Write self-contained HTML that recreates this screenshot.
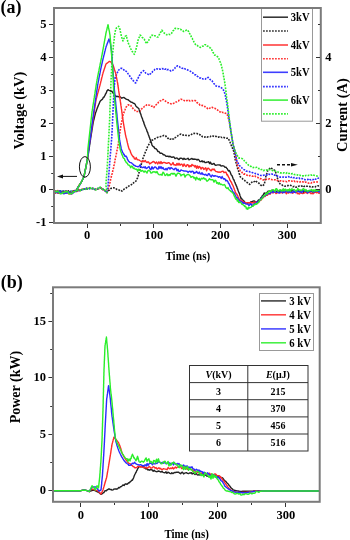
<!DOCTYPE html>
<html><head><meta charset="utf-8"><style>
html,body{margin:0;padding:0;background:#fff;}
body{width:350px;height:540px;overflow:hidden;font-family:"Liberation Serif",serif;}
svg{display:block;}
</style></head><body>
<svg width="350" height="540" viewBox="0 0 350 540" style="will-change:transform">
<rect width="350" height="540" fill="#fff"/>
<g>
<polyline points="54.0,190.9 55.0,191.1 56.0,191.7 57.0,191.1 58.0,191.3 59.0,191.4 60.0,191.0 61.0,191.5 62.0,191.7 62.9,191.9 63.8,191.0 64.8,191.2 65.7,191.0 66.6,192.0 67.5,191.8 68.5,190.9 69.4,192.2 70.3,192.2 71.2,191.8 72.2,191.7 73.1,191.1 74.0,191.0 74.9,191.4 75.8,190.6 76.7,190.6 77.6,190.4 78.4,189.9 79.3,190.2 80.2,190.0 81.1,190.2 82.0,189.6 82.9,189.6 83.8,189.2 84.7,189.3 85.6,188.8 86.4,188.4 87.3,189.1 88.2,189.0 89.1,188.6 90.0,188.2 91.0,188.0 92.0,188.2 93.0,188.5 94.0,188.6 95.0,189.6 96.0,189.5 97.0,189.5 98.0,188.5 99.0,188.6 100.0,187.9 100.8,187.6 101.6,188.3 102.4,189.5 103.2,189.5 104.0,190.4 104.8,190.5 105.5,190.9 106.2,192.0 107.0,192.7 107.6,191.7 108.2,190.9 108.8,190.3 109.4,190.0 110.0,189.2 111.0,188.4 112.0,188.3 113.0,187.9 114.0,187.7 115.0,188.7 116.0,188.8 117.0,189.5 118.0,190.0 119.0,190.0 120.0,190.7 121.0,190.4 122.0,191.1 122.7,190.2 123.5,189.7 124.2,189.0 125.0,188.5 125.7,188.3 126.5,187.7 127.3,186.9 128.1,186.8 129.0,185.9 129.8,185.5 130.6,185.3 131.4,184.7 132.2,183.8 132.9,183.8 133.7,182.7 134.5,182.1 135.2,181.9 136.0,181.0 136.4,180.2 136.8,179.2 137.3,178.4 137.7,177.7 137.9,176.7 138.2,175.9 138.4,174.9 138.7,174.0 138.9,173.2 139.1,172.2 139.3,171.3 139.6,170.5 139.8,169.4 140.0,168.5 140.3,167.8 140.6,166.8 140.8,165.7 141.1,164.7 141.4,163.9 141.7,163.0 142.0,161.8 142.3,161.1 142.6,160.1 142.8,159.1 143.1,158.0 143.4,157.0 143.8,156.0 144.2,155.4 144.6,154.2 144.9,153.4 145.3,152.3 145.7,151.5 146.1,150.5 146.5,149.4 146.8,148.4 147.2,147.7 147.6,146.5 148.0,145.6 148.5,145.0 149.0,144.3 149.4,143.5 149.9,142.5 150.4,142.1 150.9,140.9 151.7,140.3 152.5,140.1 153.3,139.8 154.1,139.1 154.9,138.8 155.7,138.5 156.5,138.2 157.4,137.5 158.2,137.2 159.1,137.2 159.9,136.9 160.9,136.4 161.9,136.1 162.9,135.8 163.9,135.4 165.0,135.5 165.8,136.0 166.5,137.2 167.2,137.6 168.0,138.4 169.0,138.0 170.0,138.9 171.0,139.2 172.0,139.8 172.8,139.0 173.6,138.9 174.4,137.7 175.2,137.6 176.0,137.2 176.8,136.7 177.6,136.0 178.4,135.3 179.2,134.8 180.0,134.4 181.0,134.1 182.0,134.6 183.0,135.0 184.0,135.1 185.0,134.9 186.0,135.4 187.0,135.6 188.0,135.5 189.0,135.7 189.8,135.1 190.7,134.8 191.5,134.4 192.3,133.6 193.2,133.5 194.0,133.4 195.0,133.5 196.0,133.6 197.0,133.5 198.0,134.0 199.0,134.1 199.8,134.6 200.6,135.4 201.4,135.5 202.2,136.6 203.0,136.5 204.0,137.1 205.0,137.0 206.0,136.7 207.0,137.2 208.0,136.8 209.0,136.7 210.0,136.8 211.0,136.0 212.0,135.6 213.0,136.0 214.0,136.5 215.0,136.2 216.0,136.4 217.0,137.2 218.0,137.1 219.0,137.0 220.0,137.6 221.0,137.1 222.0,137.6 223.0,137.2 224.0,137.5 225.0,138.0 226.0,138.2 227.0,138.3 228.0,138.0 228.5,139.0 229.0,139.9 229.5,140.8 230.0,142.0 230.4,143.1 230.8,144.1 231.2,145.1 231.6,146.2 232.0,146.9 232.4,147.9 232.8,149.0 233.2,149.9 233.6,150.9 234.0,152.0 234.1,153.0 234.3,153.9 234.4,154.8 234.6,155.8 234.7,156.8 234.9,157.6 235.0,158.5 235.2,159.4 235.5,160.6 235.7,161.3 236.0,162.4 236.2,163.3 236.5,164.2 236.7,165.2 237.0,166.0 237.2,166.9 237.5,168.0 237.7,168.7 238.0,169.9 238.3,170.5 238.6,171.3 238.9,172.2 239.1,173.2 239.4,174.0 239.7,174.9 240.0,175.8 240.3,176.8 241.0,177.6 241.7,178.1 242.3,178.5 243.0,179.3 243.7,179.8 244.5,180.3 245.4,181.3 246.2,182.1 247.1,182.4 248.0,183.0 248.8,183.6 249.7,184.4 250.3,183.7 251.0,183.1 251.7,182.5 252.3,181.6 253.4,181.7 254.6,181.5 255.7,180.6 256.6,181.8 257.4,182.3 258.2,182.5 259.1,183.4 259.8,184.1 260.4,184.9 261.1,185.3 261.7,186.0 262.6,185.7 263.4,185.1 264.3,184.4 264.5,183.3 264.7,182.4 264.9,181.4 265.1,180.5 265.2,179.6 265.4,178.6 265.6,177.7 265.8,176.6 266.0,175.8 266.3,174.8 266.7,173.8 267.0,172.7 267.4,171.7 267.7,170.5 268.4,170.2 269.0,169.5 269.6,168.6 270.3,167.7 271.2,168.3 272.0,168.6 272.9,169.1 273.7,169.7 274.6,170.3 275.4,171.5 275.7,172.3 276.0,173.5 276.2,174.3 276.5,175.4 276.8,176.5 277.1,177.3 277.4,178.1 277.7,179.1 278.0,180.1 278.3,181.0 278.6,181.8 278.9,182.9 279.7,183.4 280.6,184.5 281.4,184.7 282.3,185.1 283.1,185.6 284.0,185.6 284.9,186.2 285.9,185.9 287.0,185.6 288.1,185.6 289.1,185.1 290.1,185.3 291.1,185.6 292.1,186.3 293.0,186.7 294.0,186.4 295.0,187.3 296.0,187.3 297.0,186.7 298.0,186.6 299.0,186.1 300.0,186.2 301.0,186.0 302.0,186.1 303.0,185.5 304.0,186.5 305.0,186.0 306.0,185.9 307.0,186.3 308.0,186.2 309.0,186.3 310.0,186.7 311.0,186.3 312.0,186.9 313.0,186.9 314.0,187.2 315.0,187.0 316.0,186.3 317.0,186.3 318.0,185.8 319.0,186.0" fill="none" stroke="#222" stroke-width="1.6" stroke-linejoin="round" stroke-dasharray="1.8 1.2"/>
<polyline points="54.0,191.0 55.0,191.3 56.0,191.3 57.0,190.7 58.0,190.6 59.0,191.1 60.0,191.1 61.0,191.9 62.0,191.8 62.9,191.6 63.8,191.6 64.8,191.7 65.7,191.0 66.6,191.5 67.5,191.1 68.5,192.1 69.4,190.9 70.3,192.0 71.2,191.0 72.2,191.8 73.1,191.4 74.0,191.5 74.9,191.8 75.8,190.6 76.7,190.4 77.6,191.2 78.4,190.5 79.3,189.8 80.2,190.6 81.1,190.4 82.0,189.1 82.9,189.3 83.8,188.8 84.7,188.8 85.6,189.0 86.4,188.3 87.3,188.8 88.2,187.8 89.1,187.8 90.0,188.4 91.0,188.1 92.0,188.4 93.0,188.9 94.0,189.0 95.0,189.2 96.0,189.1 97.0,189.3 98.0,189.1 99.0,188.6 100.0,187.8 100.8,187.9 101.6,188.4 102.4,189.2 103.2,189.7 104.0,189.7 104.8,190.4 105.5,191.1 106.2,191.9 107.0,192.6 107.3,191.6 107.7,190.5 108.0,189.9 108.3,188.8 108.7,187.9 109.0,186.9 109.2,186.1 109.4,185.2 109.6,184.4 109.8,183.3 110.0,182.5 110.2,181.5 110.4,180.7 110.6,179.7 110.8,178.8 111.0,178.0 111.2,177.1 111.5,176.1 111.7,175.3 111.9,174.3 112.2,173.4 112.4,172.5 112.6,171.8 112.8,170.7 113.1,169.9 113.3,168.8 113.5,168.1 113.7,167.1 113.8,166.1 114.0,165.3 114.2,164.5 114.4,163.3 114.6,162.5 114.8,161.7 115.0,160.7 115.1,159.8 115.3,158.8 115.5,157.9 115.7,157.1 115.9,156.2 116.1,155.3 116.3,154.2 116.5,153.2 116.7,152.3 116.8,151.5 117.0,150.5 117.2,149.6 117.4,148.5 117.6,147.6 117.8,146.7 117.9,145.8 118.1,144.9 118.2,144.1 118.3,143.2 118.5,142.1 118.6,141.3 118.7,140.5 118.8,139.5 119.0,138.7 119.1,137.7 119.2,136.8 119.4,135.9 119.5,134.9 119.6,134.0 119.8,133.0 119.9,132.1 120.1,131.2 120.2,130.1 120.4,129.3 120.5,128.2 120.7,127.2 120.8,126.3 121.0,125.5 121.1,124.4 121.3,123.5 121.5,122.6 121.7,121.7 121.9,120.7 122.0,119.7 122.2,118.8 122.4,118.0 122.6,117.0 122.8,116.0 123.1,115.0 123.4,114.0 123.8,113.1 124.1,112.0 124.4,110.8 124.8,110.1 125.2,109.2 125.6,108.1 126.0,107.2 126.6,106.5 127.2,105.6 127.8,105.1 128.8,104.9 129.7,104.8 130.7,105.3 131.3,106.2 132.0,107.4 132.7,108.1 133.3,108.9 134.0,109.6 134.6,109.9 135.2,110.8 135.9,111.6 137.0,111.5 138.2,111.5 139.3,111.8 140.0,111.1 140.6,110.5 141.2,109.4 141.9,108.7 142.5,108.1 143.2,107.7 143.8,107.1 144.4,106.4 145.3,106.2 146.2,105.3 147.0,104.7 147.9,104.6 148.8,105.0 149.6,105.2 150.5,106.0 151.3,106.2 152.2,106.3 153.0,106.7 153.9,107.4 154.7,106.0 155.6,105.3 156.4,104.5 157.1,103.7 157.8,103.2 158.5,102.3 159.2,102.1 159.9,101.1 160.8,100.8 161.6,100.0 162.5,99.8 163.3,99.5 164.2,100.4 165.0,100.8 166.0,101.5 167.0,102.3 168.0,102.7 169.0,102.8 170.0,103.4 171.0,103.9 172.0,103.9 173.0,103.6 174.0,103.1 175.0,102.9 176.0,102.0 176.8,101.7 177.7,101.0 178.5,100.9 179.3,100.1 180.2,99.8 181.0,99.3 182.0,99.6 183.0,99.9 184.0,100.4 185.0,101.0 186.0,100.7 187.0,100.4 188.0,101.0 189.0,100.4 190.0,101.0 191.0,100.7 192.0,100.5 193.0,101.0 194.0,101.0 195.0,100.5 195.7,101.0 196.4,101.9 197.1,102.7 197.9,103.2 198.6,103.9 199.3,104.3 200.0,105.1 201.0,105.0 202.0,105.4 203.0,105.6 204.0,105.9 204.8,106.5 205.6,107.4 206.4,107.6 207.2,108.2 208.0,108.8 209.0,108.9 210.0,108.0 211.0,107.2 212.0,107.3 213.0,107.8 214.0,108.2 215.0,108.4 216.0,109.2 216.8,109.5 217.6,110.0 218.4,111.0 219.2,111.6 220.0,111.8 221.0,112.6 222.0,112.1 223.0,112.6 224.0,112.6 225.0,113.1 226.0,113.4 227.0,114.1 227.3,114.8 227.6,115.6 227.9,116.5 228.1,117.4 228.4,118.4 228.7,119.2 229.0,119.9 229.2,120.9 229.3,121.8 229.5,122.7 229.6,123.6 229.8,124.5 229.9,125.4 230.1,126.2 230.2,127.1 230.4,128.0 230.6,129.0 230.7,130.0 230.8,131.0 231.0,132.0 231.2,133.0 231.3,133.8 231.5,134.9 231.6,135.7 231.8,136.7 231.9,137.6 232.1,138.6 232.2,139.4 232.4,140.3 232.5,141.2 232.7,142.2 232.8,143.1 233.0,144.1 233.2,144.8 233.4,145.7 233.7,146.6 233.9,147.4 234.1,148.3 234.3,149.2 234.6,150.2 234.8,151.0 235.0,152.0 235.2,152.9 235.3,153.9 235.5,154.8 235.7,155.6 235.8,156.6 236.0,157.3 236.2,158.2 236.3,159.2 236.5,160.0 236.7,160.9 236.9,161.9 237.0,162.7 237.2,163.6 237.4,164.5 237.5,165.3 237.7,166.1 238.2,167.2 238.7,168.2 239.3,169.1 239.8,169.9 240.3,170.9 241.0,171.2 241.7,171.8 242.3,172.9 243.0,173.4 243.7,174.1 244.6,173.9 245.4,174.3 246.3,174.8 247.2,175.3 248.0,175.7 248.9,176.0 249.9,175.5 250.9,175.6 252.0,176.1 253.0,176.2 254.0,175.7 254.8,175.9 255.7,176.7 256.6,177.0 257.4,177.3 258.2,177.7 259.1,178.2 260.0,178.7 260.8,178.6 261.7,179.2 262.6,179.8 263.4,179.9 264.3,179.8 265.3,179.7 266.3,179.3 267.4,179.7 268.4,179.4 269.4,178.8 270.4,179.3 271.5,179.5 272.5,179.7 273.6,179.7 274.6,179.8 275.6,180.1 276.6,180.8 277.7,180.4 278.7,180.7 279.7,180.9 280.7,180.8 281.8,181.1 282.8,181.1 283.9,181.4 284.9,181.6 285.9,181.4 287.0,181.7 288.1,180.9 289.1,180.7 290.1,181.1 291.1,181.0 292.1,181.2 293.1,181.4 294.0,180.9 295.0,181.6 296.0,181.1 297.0,181.4 298.0,182.0 299.0,182.2 300.0,182.0 301.0,181.6 302.0,181.9 303.0,181.8 304.0,182.5 305.0,182.1 306.0,182.2 307.0,182.8 308.0,183.0 309.0,183.1 310.0,182.8 311.0,183.1 312.0,182.5 313.0,182.7 314.0,182.1 315.0,182.0 316.0,181.8 317.0,182.0 318.0,181.9 319.0,181.6" fill="none" stroke="#ff2a2a" stroke-width="1.6" stroke-linejoin="round" stroke-dasharray="1.8 1.2"/>
<polyline points="54.0,190.7 55.0,191.3 56.0,191.4 57.0,191.7 58.0,190.8 59.0,191.0 60.0,190.9 61.0,191.1 62.0,191.8 62.9,191.0 63.8,191.6 64.8,191.1 65.7,191.2 66.6,191.4 67.5,192.0 68.5,191.7 69.4,190.9 70.3,191.3 71.2,191.1 72.2,192.1 73.1,192.0 74.0,192.0 74.9,191.8 75.8,191.4 76.7,191.5 77.6,191.1 78.4,190.2 79.3,190.7 80.2,190.0 81.1,190.1 82.0,189.7 82.9,189.3 83.8,189.1 84.7,189.0 85.6,188.7 86.4,188.2 87.3,188.9 88.2,188.7 89.1,188.8 90.0,188.2 91.0,188.3 92.0,188.8 93.0,188.4 94.0,189.3 95.0,189.3 96.0,189.3 97.0,188.8 98.0,188.6 99.0,187.8 100.0,187.6 100.8,188.2 101.6,188.5 102.4,188.7 103.2,189.5 104.0,189.8 104.8,190.4 105.5,191.0 106.2,191.8 107.0,192.4 107.1,191.6 107.3,190.7 107.4,189.7 107.5,188.8 107.7,187.9 107.8,186.8 108.0,185.9 108.1,185.0 108.2,184.1 108.2,183.1 108.3,182.2 108.4,181.2 108.4,180.4 108.5,179.4 108.6,178.5 108.6,177.5 108.7,176.6 108.8,175.6 108.8,174.7 108.9,173.7 109.0,172.9 109.1,171.9 109.1,171.0 109.2,170.0 109.3,169.1 109.3,168.2 109.4,167.2 109.5,166.3 109.5,165.4 109.6,164.4 109.7,163.5 109.7,162.5 109.8,161.6 109.9,160.7 110.0,159.7 110.0,158.8 110.1,157.9 110.2,157.0 110.2,156.1 110.3,155.1 110.4,154.2 110.5,153.3 110.5,152.3 110.6,151.4 110.7,150.6 110.8,149.6 110.8,148.7 110.9,147.7 111.0,146.8 111.0,145.9 111.1,145.0 111.2,144.0 111.3,143.2 111.3,142.1 111.4,141.3 111.5,140.3 111.5,139.5 111.6,138.5 111.7,137.6 111.8,136.7 111.8,135.7 111.9,134.8 111.9,133.9 112.0,133.0 112.0,132.0 112.1,131.1 112.1,130.2 112.2,129.3 112.2,128.3 112.2,127.4 112.3,126.5 112.3,125.5 112.4,124.6 112.4,123.7 112.5,122.8 112.5,121.8 112.6,120.9 112.6,120.0 112.6,119.1 112.7,118.2 112.7,117.2 112.8,116.4 112.8,115.4 112.8,114.5 112.9,113.6 112.9,112.7 113.0,111.7 113.0,110.8 113.1,109.9 113.1,109.0 113.1,108.1 113.2,107.2 113.2,106.2 113.3,105.3 113.3,104.4 113.3,103.5 113.4,102.6 113.4,101.7 113.5,100.7 113.5,99.9 113.6,98.9 113.6,98.0 113.7,97.1 113.7,96.1 113.8,95.2 113.8,94.3 113.9,93.4 113.9,92.4 114.0,91.5 114.1,90.5 114.1,89.6 114.2,88.7 114.2,87.8 114.3,86.9 114.3,85.9 114.4,85.0 114.5,84.0 114.6,83.0 114.7,82.0 114.8,81.0 114.9,80.1 115.0,79.0 115.1,78.1 115.2,77.0 115.8,76.0 116.4,75.0 116.8,74.3 117.1,73.5 117.5,72.3 117.9,71.5 118.2,70.8 118.6,70.2 119.5,69.3 120.5,68.5 121.4,68.2 122.1,68.5 122.8,69.0 123.6,69.7 124.3,70.3 125.2,71.3 126.2,71.3 127.1,72.2 127.7,73.1 128.3,74.1 128.8,74.8 129.4,75.5 130.0,76.5 130.6,77.4 131.2,78.2 131.7,78.9 132.3,80.0 132.9,80.4 133.8,81.3 134.8,82.5 135.7,82.9 136.1,82.0 136.5,81.4 136.9,80.4 137.4,79.4 137.8,78.6 138.2,77.8 138.6,77.0 139.1,76.5 139.5,75.3 140.0,74.8 140.5,73.9 140.9,72.9 141.4,72.4 142.5,71.6 143.6,70.7 144.3,71.3 145.0,72.1 145.7,73.1 146.4,73.6 147.4,73.8 148.3,74.4 149.3,75.0 150.0,74.1 150.7,73.6 151.4,72.5 152.1,72.3 152.8,71.2 153.5,70.5 154.3,70.1 155.0,69.2 155.7,68.9 156.6,68.8 157.5,69.0 158.4,69.4 159.3,69.1 160.2,69.3 161.2,69.0 162.1,68.6 163.0,68.9 164.0,68.3 165.0,69.3 166.0,68.9 167.0,69.8 168.0,69.5 169.0,69.7 170.0,70.4 171.0,71.1 172.0,70.9 172.7,70.4 173.3,69.8 174.0,68.9 174.7,68.5 175.3,67.5 176.0,67.1 176.6,66.7 177.3,65.8 178.2,66.1 179.2,66.5 180.2,67.4 181.1,67.6 182.1,68.3 183.2,68.4 184.2,68.1 185.3,69.1 186.3,69.3 187.2,69.7 188.2,70.2 189.2,70.6 190.1,71.1 190.9,71.7 191.7,72.3 192.4,72.7 193.2,73.2 194.0,74.3 194.8,74.7 195.7,74.9 196.6,75.9 197.4,76.4 198.2,76.9 199.1,77.7 200.0,78.1 200.8,78.0 201.7,78.7 202.6,78.7 203.4,79.1 204.3,79.2 205.2,79.2 206.2,78.4 207.2,78.3 208.1,77.4 208.9,78.3 209.7,79.2 210.4,79.7 211.2,80.2 212.0,80.8 212.6,81.7 213.1,82.4 213.7,83.3 214.3,84.0 214.9,84.8 215.4,85.3 216.0,85.9 217.0,86.3 218.0,86.7 219.0,86.4 220.0,86.8 220.8,87.3 221.5,87.9 222.2,88.4 223.0,89.2 223.4,89.9 223.8,91.2 224.2,91.9 224.6,92.9 225.0,94.1 225.2,94.8 225.4,95.7 225.5,96.6 225.7,97.5 225.9,98.5 226.1,99.4 226.3,100.3 226.5,101.2 226.6,102.2 226.8,103.0 227.0,104.0 227.1,104.9 227.3,105.9 227.4,106.8 227.5,107.8 227.7,108.7 227.8,109.7 227.9,110.6 228.1,111.4 228.2,112.3 228.3,113.4 228.5,114.3 228.6,115.2 228.7,116.2 228.9,117.0 229.0,118.0 229.1,118.9 229.3,119.8 229.4,120.7 229.5,121.6 229.6,122.6 229.8,123.5 229.9,124.4 230.0,125.2 230.1,126.2 230.3,127.0 230.4,128.0 230.6,128.9 230.7,130.1 230.8,131.1 231.0,132.0 231.2,133.0 231.3,133.8 231.5,134.7 231.6,135.6 231.8,136.6 231.9,137.5 232.1,138.5 232.2,139.4 232.4,140.3 232.5,141.3 232.7,142.1 232.8,143.0 233.0,144.0 233.2,144.8 233.4,145.9 233.7,146.6 233.9,147.4 234.1,148.5 234.3,149.4 234.6,150.2 234.8,151.1 235.0,151.9 235.2,152.8 235.4,153.8 235.6,154.7 235.8,155.6 235.9,156.6 236.1,157.3 236.3,158.3 236.5,159.3 236.7,160.2 236.9,160.9 237.4,162.1 237.9,162.8 238.4,163.7 238.9,164.7 239.4,165.6 240.1,166.2 240.8,167.0 241.5,167.5 242.2,168.2 242.9,169.1 243.7,169.5 244.6,169.8 245.4,170.1 246.3,171.1 247.1,171.3 248.1,171.5 249.2,171.6 250.2,172.0 251.3,172.0 252.3,172.6 253.3,172.7 254.3,173.0 255.4,173.6 256.4,173.6 257.4,174.0 258.3,174.5 259.1,174.7 260.0,175.1 260.9,175.5 261.7,175.5 262.6,175.7 263.6,175.3 264.6,175.1 265.7,175.2 266.7,175.1 267.7,175.3 268.7,174.3 269.8,174.4 270.8,174.6 271.9,174.1 272.9,174.3 273.8,174.2 274.6,175.1 275.4,175.2 276.3,175.8 277.1,175.8 278.0,176.5 279.0,177.0 280.0,177.1 281.1,177.1 282.1,177.2 283.1,177.0 284.1,177.4 285.1,177.1 286.1,177.2 287.1,177.0 288.1,176.6 289.1,176.9 290.1,176.4 291.1,177.4 292.1,176.8 293.1,177.7 294.0,177.6 295.0,177.6 296.0,178.2 297.0,178.0 298.0,178.2 299.0,177.9 300.0,178.8 301.0,178.8 302.0,178.6 303.0,178.7 304.0,179.1 305.0,179.7 306.0,179.8 307.0,179.6 308.0,179.4 309.0,180.3 310.0,179.6 311.0,179.9 312.0,179.5 313.0,179.8 314.0,178.8 315.0,179.3 316.0,178.9 317.0,178.1 318.0,178.3 319.0,178.0" fill="none" stroke="#2a2aff" stroke-width="1.6" stroke-linejoin="round" stroke-dasharray="1.8 1.2"/>
<polyline points="54.0,190.5 55.0,191.3 56.0,191.3 57.0,191.8 58.0,190.9 59.0,191.0 60.0,191.7 61.0,191.7 62.0,191.2 62.9,191.8 63.8,191.4 64.8,191.9 65.7,191.0 66.6,191.2 67.5,192.1 68.5,191.4 69.4,191.2 70.3,192.0 71.2,191.8 72.2,191.1 73.1,191.7 74.0,191.8 74.9,191.0 75.8,191.3 76.7,190.5 77.6,190.5 78.4,190.0 79.3,189.9 80.2,190.6 81.1,189.7 82.0,190.2 82.9,189.3 83.8,189.4 84.7,189.5 85.6,189.1 86.4,188.2 87.3,188.6 88.2,188.5 89.1,187.8 90.0,187.5 91.0,188.7 92.0,188.5 93.0,188.4 94.0,189.0 95.0,189.0 96.0,189.9 97.0,189.1 98.0,188.2 99.0,188.4 100.0,187.2 100.8,187.9 101.6,188.1 102.4,189.3 103.2,189.1 104.0,190.0 104.8,190.3 105.5,191.2 106.2,192.0 107.0,192.5 106.9,191.6 106.7,190.6 106.6,189.7 106.5,188.8 106.3,187.7 106.2,186.9 106.0,185.9 105.9,185.1 106.0,184.1 106.0,183.1 106.1,182.2 106.2,181.3 106.2,180.3 106.3,179.3 106.4,178.5 106.4,177.6 106.5,176.6 106.6,175.6 106.7,174.7 106.7,173.8 106.8,172.8 106.9,171.9 106.9,170.9 107.0,170.0 107.1,169.1 107.1,168.1 107.2,167.2 107.3,166.2 107.3,165.3 107.4,164.4 107.4,163.5 107.5,162.5 107.5,161.7 107.6,160.7 107.6,159.8 107.7,158.8 107.7,157.9 107.8,157.0 107.8,156.1 107.9,155.2 107.9,154.2 108.0,153.3 108.0,152.4 108.1,151.5 108.1,150.5 108.2,149.6 108.2,148.7 108.2,147.8 108.3,146.8 108.3,145.9 108.4,145.0 108.4,144.1 108.5,143.1 108.5,142.2 108.6,141.3 108.6,140.4 108.7,139.4 108.7,138.5 108.8,137.6 108.8,136.7 108.9,135.7 108.9,134.8 108.9,133.9 109.0,132.9 109.0,132.0 109.1,131.1 109.1,130.1 109.2,129.2 109.2,128.3 109.2,127.4 109.3,126.5 109.3,125.5 109.4,124.6 109.4,123.7 109.5,122.8 109.5,121.8 109.6,120.9 109.6,120.0 109.6,119.1 109.7,118.1 109.7,117.2 109.7,116.3 109.8,115.4 109.8,114.5 109.8,113.5 109.9,112.6 109.9,111.7 109.9,110.7 110.0,109.8 110.0,108.9 110.0,108.0 110.1,107.0 110.1,106.1 110.1,105.2 110.2,104.3 110.2,103.4 110.2,102.4 110.3,101.5 110.3,100.6 110.3,99.7 110.4,98.7 110.4,97.8 110.4,96.9 110.5,95.9 110.5,95.0 110.5,94.1 110.6,93.1 110.6,92.2 110.7,91.2 110.7,90.3 110.7,89.4 110.8,88.4 110.8,87.5 110.8,86.6 110.9,85.6 110.9,84.7 110.9,83.8 111.0,82.8 111.0,81.9 111.1,80.9 111.1,80.0 111.1,79.1 111.2,78.2 111.2,77.3 111.3,76.3 111.3,75.5 111.3,74.5 111.4,73.7 111.4,72.8 111.5,71.8 111.5,70.9 111.5,70.0 111.6,69.1 111.6,68.2 111.7,67.3 111.7,66.3 111.8,65.4 111.8,64.6 111.8,63.7 111.9,62.7 111.9,61.8 112.0,60.9 112.0,60.0 112.1,59.1 112.2,58.2 112.3,57.2 112.4,56.3 112.4,55.5 112.5,54.6 112.6,53.6 112.7,52.7 112.8,51.9 112.9,50.9 113.0,49.9 113.1,49.0 113.2,48.2 113.2,47.2 113.3,46.3 113.4,45.4 113.5,44.5 113.6,43.6 113.7,42.6 113.8,41.6 113.9,40.8 114.1,39.7 114.2,38.7 114.3,37.9 114.4,36.9 114.5,35.9 114.7,35.0 114.8,34.0 114.9,33.1 115.0,32.2 115.3,31.0 115.7,29.9 116.1,29.0 116.4,28.0 117.5,27.3 118.6,26.3 119.1,27.3 119.5,28.4 120.0,29.3 120.2,30.2 120.3,31.1 120.5,32.0 120.7,32.8 120.9,33.7 121.1,34.7 121.2,35.5 121.4,36.3 121.7,37.3 122.0,38.0 122.3,39.1 122.6,39.8 122.9,40.9 123.3,39.9 123.7,38.8 124.2,38.1 124.6,37.3 125.0,36.4 126.4,35.7 126.6,36.6 126.8,37.6 127.0,38.4 127.3,39.4 127.5,40.1 127.7,41.2 127.9,41.9 128.2,42.8 128.6,43.8 128.9,44.8 129.3,45.4 129.7,46.2 130.0,47.1 130.4,48.0 130.8,48.8 131.3,49.6 131.7,50.7 132.1,51.4 132.7,52.0 133.2,53.0 133.8,53.8 134.3,54.3 134.6,53.2 134.9,52.4 135.2,51.7 135.5,50.5 135.8,49.6 136.1,48.9 136.4,47.8 136.6,47.1 136.8,46.0 137.0,45.2 137.2,44.3 137.3,43.3 137.5,42.6 137.7,41.6 137.9,40.8 138.2,39.8 138.6,38.6 138.9,38.0 139.3,37.0 139.7,35.9 140.0,35.1 140.7,35.5 141.4,36.4 142.1,37.3 142.8,37.8 143.6,38.6 144.3,39.1 144.7,40.3 145.1,41.1 145.6,42.0 146.0,42.6 146.4,43.7 146.9,42.7 147.5,42.2 148.1,41.3 148.6,40.9 149.0,39.7 149.5,39.1 149.9,38.2 150.3,37.4 150.7,36.4 151.2,35.9 151.6,35.4 152.5,35.2 153.4,35.9 154.3,35.7 155.3,35.9 156.2,36.3 157.1,37.0 158.0,37.0 158.5,36.2 159.0,35.1 159.5,34.4 159.9,33.4 160.4,32.6 160.9,32.0 161.4,31.1 161.9,30.2 162.5,31.1 163.2,31.9 163.8,32.6 164.4,33.2 165.1,33.6 165.7,34.0 166.7,34.8 167.7,34.2 168.8,34.1 169.8,34.6 170.8,34.3 171.4,33.7 171.9,32.7 172.5,32.0 173.0,30.8 173.6,30.3 174.1,29.3 174.7,28.6 175.7,28.4 176.7,28.4 177.8,28.6 178.8,28.7 179.8,29.4 180.6,29.4 181.4,30.0 182.1,30.8 182.9,31.0 183.7,31.5 184.7,31.1 185.6,30.6 186.6,30.0 187.6,30.0 188.1,30.8 188.6,31.6 189.0,32.7 189.5,33.4 190.0,34.1 190.4,35.4 190.9,35.9 191.4,37.0 191.8,37.9 192.3,38.4 192.7,39.6 193.1,40.3 193.6,41.2 194.0,42.2 194.4,42.9 194.9,43.6 195.3,44.3 196.2,45.3 197.0,45.4 197.9,46.0 198.7,46.4 199.6,47.0 200.4,47.4 201.3,47.0 202.1,46.3 203.0,46.2 203.9,45.3 204.7,44.7 205.6,44.7 206.3,44.8 207.1,46.0 207.8,46.1 208.5,46.7 209.2,47.2 210.0,47.7 210.7,48.4 211.2,49.3 211.7,49.8 212.2,50.7 212.6,51.5 213.1,52.6 213.6,53.2 214.1,54.0 214.6,55.1 215.4,55.2 216.1,55.8 216.9,56.3 217.6,56.7 218.4,57.5 218.8,58.2 219.1,59.2 219.5,60.2 219.9,61.2 220.3,62.1 220.6,62.9 221.0,63.9 221.2,64.9 221.4,65.9 221.7,66.8 221.9,67.7 222.1,68.6 222.4,69.7 222.6,70.6 222.8,71.7 223.0,72.5 223.1,73.5 223.3,74.4 223.5,75.5 223.6,76.3 223.8,77.3 224.0,78.3 224.2,79.3 224.3,80.3 224.5,81.2 224.7,82.0 224.8,83.1 225.0,83.9 225.1,84.9 225.2,85.9 225.4,86.9 225.5,87.8 225.6,88.8 225.7,89.6 225.8,90.5 225.9,91.5 226.1,92.5 226.2,93.3 226.3,94.3 226.4,95.3 226.5,96.2 226.6,97.2 226.8,98.1 226.9,99.0 227.0,100.1 227.1,100.9 227.2,101.8 227.4,102.8 227.5,103.8 227.6,104.7 227.7,105.7 227.8,106.6 227.9,107.5 228.1,108.5 228.2,109.3 228.3,110.4 228.4,111.2 228.5,112.3 228.6,113.1 228.8,114.1 228.9,115.0 229.0,116.0 229.1,116.9 229.2,117.9 229.3,118.7 229.4,119.7 229.5,120.5 229.6,121.6 229.8,122.5 229.9,123.4 230.0,124.3 230.1,125.2 230.2,126.2 230.3,127.1 230.4,128.1 230.6,129.0 230.7,130.1 230.8,131.0 231.0,132.1 231.2,132.9 231.3,133.9 231.5,134.8 231.6,135.6 231.8,136.6 231.9,137.4 232.1,138.5 232.2,139.4 232.4,140.2 232.5,141.3 232.7,142.2 232.8,143.0 233.0,144.1 233.2,145.0 233.5,145.7 233.8,146.6 234.0,147.4 234.2,148.3 234.5,149.4 234.8,150.1 235.0,151.2 235.5,152.0 236.0,153.2 236.5,154.1 237.0,154.9 237.6,156.1 238.1,157.1 238.6,157.9 239.7,158.1 240.9,158.2 242.0,158.5 242.7,159.1 243.4,159.9 244.0,160.4 244.7,161.5 245.4,162.0 246.1,162.6 246.8,163.6 247.5,163.9 248.2,164.9 248.9,165.6 249.8,165.9 250.6,166.3 251.5,166.8 252.3,167.5 253.4,167.6 254.6,167.2 255.7,167.5 256.6,167.3 257.4,168.2 258.3,168.5 259.1,168.6 260.0,168.6 260.9,169.5 261.7,169.5 262.6,169.8 263.4,170.6 264.3,170.2 265.4,170.5 266.5,169.9 267.5,170.2 268.6,169.5 269.7,169.6 270.8,170.1 271.8,170.3 272.9,170.8 273.9,170.8 274.9,171.1 276.0,171.5 277.0,172.0 278.0,172.0 279.0,172.5 280.0,172.9 281.1,172.9 282.1,172.7 283.1,173.1 284.1,172.7 285.1,173.1 286.1,173.4 287.1,172.6 288.1,173.2 289.1,173.5 290.0,173.1 290.9,173.4 291.7,173.9 292.6,173.6 293.5,174.0 294.4,174.5 295.2,174.6 296.1,174.5 297.0,174.7 298.0,175.2 299.0,175.7 300.0,175.2 301.0,175.8 302.0,175.9 303.0,175.8 304.0,175.9 305.0,176.2 306.0,175.4 307.0,175.8 308.0,175.6 309.0,175.2 310.0,175.4 311.0,175.0 312.0,175.1 313.0,174.6 314.0,175.2 315.0,175.6 316.0,175.8 317.0,176.1 318.0,175.6 319.0,176.0" fill="none" stroke="#2aee2a" stroke-width="1.6" stroke-linejoin="round" stroke-dasharray="1.8 1.2"/>
<polyline points="54.0,191.1 55.0,193.0 56.0,192.9 57.0,191.8 58.0,192.5 59.0,192.4 60.0,193.0 61.0,193.4 62.0,191.8 63.0,191.6 64.0,193.5 65.0,192.4 66.0,193.1 67.0,191.3 68.0,192.5 69.0,193.3 70.0,192.1 71.0,193.8 72.1,193.7 73.1,191.8 74.0,191.1 74.8,191.4 75.7,191.4 76.6,189.9 77.1,188.8 77.6,188.2 78.1,186.8 78.6,186.2 79.1,185.6 79.6,184.8 80.1,184.0 80.7,183.1 81.2,182.3 81.7,181.4 82.1,180.5 82.6,179.5 83.0,178.6 83.5,177.6 83.9,176.7 84.1,175.8 84.3,174.9 84.5,174.0 84.7,173.1 84.8,172.2 85.0,171.3 85.2,170.4 85.4,169.5 85.6,168.6 85.8,167.6 86.0,166.7 86.2,165.7 86.4,164.8 86.5,163.8 86.7,162.9 86.9,161.9 87.1,161.0 87.3,160.0 87.5,159.0 87.7,158.0 87.8,157.0 88.0,156.0 88.2,155.0 88.3,154.1 88.5,153.2 88.6,152.3 88.7,151.4 88.8,150.5 89.0,149.6 89.1,148.7 89.2,147.8 89.4,146.9 89.5,146.0 89.6,145.1 89.8,144.2 89.9,143.3 90.0,142.4 90.2,141.5 90.3,140.5 90.5,139.6 90.6,138.7 90.7,137.8 90.9,136.9 91.0,136.0 91.2,135.1 91.3,134.1 91.5,133.2 91.6,132.3 91.8,131.3 91.9,130.4 92.1,129.5 92.2,128.5 92.4,127.6 92.5,126.7 92.7,125.7 92.8,124.8 93.0,123.9 93.1,122.9 93.3,122.0 93.5,121.1 93.7,120.2 94.0,119.3 94.2,118.4 94.4,117.5 94.6,116.6 94.8,115.7 95.1,114.8 95.3,113.9 95.5,113.0 95.8,112.1 96.2,111.2 96.5,110.3 96.8,109.4 97.1,108.5 97.5,107.6 97.8,106.7 98.2,105.9 98.5,105.0 98.9,104.2 99.3,103.4 99.6,102.5 100.0,101.4 100.8,100.6 101.5,99.9 102.3,99.4 102.9,98.4 103.4,97.3 104.0,97.2 104.6,96.0 105.1,95.2 105.5,93.9 106.0,93.6 106.4,92.6 106.9,91.0 108.0,89.7 109.2,90.5 110.3,90.6 111.2,91.4 112.0,91.3 112.6,92.5 113.1,93.1 113.7,93.5 114.5,94.6 115.2,95.6 116.0,96.5 117.2,96.3 118.3,96.7 119.4,96.5 120.6,97.2 121.8,98.2 122.9,97.6 124.0,97.5 125.1,98.4 126.2,99.1 127.4,99.6 128.2,99.8 128.9,100.5 129.7,101.1 130.8,102.1 132.0,102.3 132.8,102.7 133.5,103.4 134.3,103.5 135.1,104.2 135.8,105.8 136.6,106.9 137.4,107.3 138.1,108.0 138.9,108.7 139.2,109.9 139.6,111.2 139.9,112.0 140.2,112.8 140.6,113.9 140.9,114.4 141.2,115.5 141.6,116.8 141.9,117.5 142.2,118.2 142.5,118.9 142.8,120.0 143.2,121.2 143.5,121.3 143.8,122.8 144.1,123.7 144.4,124.6 144.8,125.5 145.1,126.5 145.5,127.2 145.9,128.2 146.3,129.0 146.6,129.7 147.0,131.3 147.3,131.9 147.7,132.5 148.0,133.6 148.3,134.5 148.6,135.3 148.9,136.1 149.3,137.2 149.6,138.1 149.9,138.9 150.2,139.7 150.5,140.2 150.8,141.2 151.2,142.1 151.5,143.2 151.8,144.3 152.1,145.3 152.7,146.0 153.4,146.7 154.0,146.7 154.6,148.1 155.2,148.6 155.8,148.6 156.4,149.2 157.0,149.8 157.8,151.5 158.5,151.4 159.2,151.8 160.0,153.2 160.8,153.2 161.7,153.2 162.5,153.8 163.3,154.8 164.2,154.7 165.0,155.3 166.0,156.4 167.0,156.2 168.0,156.2 169.0,156.8 170.0,156.2 171.0,157.0 172.0,157.3 173.0,157.0 174.0,157.0 175.0,158.6 176.0,158.2 177.0,157.9 178.0,158.9 179.0,159.6 180.0,158.3 181.0,158.2 182.0,158.4 183.0,159.5 184.0,158.2 185.0,159.3 186.0,159.2 187.0,158.9 188.0,158.2 189.0,159.8 190.0,159.4 191.0,158.9 192.0,158.4 193.0,159.4 194.0,159.0 195.0,159.4 196.0,159.2 197.0,160.1 198.0,159.3 199.0,160.0 200.0,161.6 201.0,161.6 202.0,160.8 203.0,162.0 204.0,161.2 205.0,162.6 206.0,162.5 206.9,162.1 207.8,162.0 208.7,161.7 209.6,163.6 210.4,162.2 211.3,163.9 212.2,164.4 213.1,163.9 214.0,163.4 214.9,164.9 215.8,165.3 216.7,165.1 217.6,164.9 218.4,164.9 219.3,165.0 220.2,165.0 221.1,166.1 222.0,165.9 223.0,165.8 224.0,166.1 225.0,167.4 226.0,167.2 226.7,168.2 227.3,168.8 228.0,170.2 228.7,171.0 229.3,170.6 230.0,171.7 230.4,172.7 230.9,174.2 231.3,174.9 231.8,175.4 232.2,176.1 232.7,177.5 233.1,178.6 233.6,179.6 234.0,179.9 234.4,181.3 234.7,182.0 235.1,182.7 235.5,184.1 235.8,184.3 236.2,185.7 236.5,186.0 236.9,187.0 237.3,188.6 237.6,188.8 238.0,190.2 238.3,191.0 238.7,192.1 239.0,192.6 239.3,193.4 239.7,194.3 240.0,195.7 240.3,196.3 240.7,197.5 241.0,198.5 241.6,198.3 242.2,199.7 242.8,199.9 243.4,200.6 244.0,201.1 245.0,203.0 246.0,203.1 247.0,203.4 248.0,202.7 249.0,202.9 250.0,202.8 251.0,201.7 252.0,201.8 253.0,201.1 254.0,200.9 255.0,201.4 256.0,202.6 256.8,201.6 257.5,201.7 258.2,200.4 259.0,199.7 259.7,199.7 260.3,199.1 261.0,197.4 261.6,197.4 262.2,195.9 262.8,195.1 263.4,195.3 264.0,193.2 265.0,193.0 266.0,193.9 267.0,192.4 268.0,191.2 269.0,191.1 270.0,191.0 271.0,191.8 272.0,190.1 273.0,192.0 274.0,190.8 275.0,192.3 276.0,192.2 277.0,190.8 278.0,190.8 279.0,191.4 280.0,190.6 280.9,191.8 281.8,190.3 282.7,190.2 283.6,192.4 284.5,190.8 285.5,191.5 286.4,191.1 287.3,190.7 288.2,190.1 289.1,192.0 290.0,192.1 290.9,192.1 291.8,190.2 292.7,190.5 293.6,191.5 294.5,192.3 295.5,191.4 296.4,191.8 297.3,191.7 298.2,190.8 299.1,191.6 300.0,191.1 300.9,190.9 301.8,190.4 302.7,190.9 303.6,192.4 304.5,191.2 305.5,191.6 306.4,191.5 307.3,192.2 308.2,190.8 309.1,190.6 310.0,190.6 310.9,190.6 311.8,191.9 312.7,192.1 313.6,190.7 314.5,190.8 315.5,191.4 316.4,191.5 317.3,191.6 318.2,190.8 319.1,190.3 320.0,191.5" fill="none" stroke="#222" stroke-width="1.4" stroke-linejoin="round"/>
<polyline points="54.0,193.1 55.0,193.2 56.0,191.2 57.0,191.4 58.0,193.3 59.0,193.2 60.0,193.1 61.0,192.2 62.0,193.1 63.0,193.0 64.0,192.9 65.0,191.7 66.0,192.3 67.0,192.3 68.0,193.2 69.0,194.0 70.0,193.9 71.0,192.8 72.1,192.5 73.1,192.2 74.0,191.1 74.8,190.5 75.7,190.6 76.6,189.8 77.1,189.0 77.6,188.8 78.1,187.5 78.6,186.6 79.1,185.4 79.6,184.3 80.1,184.0 80.7,183.1 81.2,182.3 81.7,181.4 82.1,180.5 82.6,179.5 83.0,178.6 83.5,177.6 83.9,176.7 84.1,175.8 84.3,174.9 84.5,174.0 84.7,173.1 84.8,172.2 85.0,171.3 85.2,170.4 85.4,169.5 85.6,168.6 85.8,167.6 86.0,166.7 86.2,165.7 86.4,164.8 86.5,163.8 86.7,162.9 86.9,161.9 87.1,161.0 87.3,160.0 87.4,159.1 87.5,158.1 87.6,157.2 87.8,156.3 87.9,155.3 88.0,154.4 88.1,153.5 88.2,152.5 88.3,151.6 88.4,150.7 88.5,149.7 88.7,148.8 88.8,147.9 88.9,146.9 89.0,146.0 89.1,145.1 89.3,144.2 89.4,143.3 89.6,142.4 89.7,141.5 89.8,140.6 90.0,139.7 90.1,138.8 90.2,137.9 90.4,137.0 90.5,136.1 90.7,135.2 90.8,134.3 90.9,133.4 91.1,132.6 91.2,131.7 91.3,130.8 91.5,129.9 91.6,129.0 91.8,128.1 91.9,127.2 92.0,126.3 92.2,125.4 92.3,124.5 92.4,123.6 92.6,122.7 92.7,121.8 92.9,120.9 93.0,120.0 93.1,119.1 93.3,118.2 93.4,117.3 93.5,116.4 93.7,115.5 93.8,114.5 94.0,113.6 94.1,112.7 94.2,111.8 94.4,110.9 94.5,110.0 94.6,109.1 94.8,108.2 94.9,107.3 95.0,106.4 95.2,105.5 95.3,104.5 95.5,103.6 95.6,102.7 95.7,101.8 95.9,100.9 96.0,100.0 96.2,99.1 96.5,98.2 96.7,97.4 96.9,96.5 97.2,95.6 97.4,94.7 97.6,93.8 97.9,92.9 98.1,92.1 98.4,91.2 98.6,90.3 98.8,89.4 99.1,88.5 99.3,87.6 99.5,86.8 99.8,85.9 100.0,85.0 100.2,84.1 100.5,83.2 100.7,82.2 100.9,81.3 101.2,80.4 101.4,79.5 101.6,78.5 101.8,77.6 102.1,76.7 102.3,75.8 102.5,74.8 102.8,73.9 103.0,73.0 103.3,72.1 103.6,71.2 103.9,70.3 104.2,69.4 104.5,68.5 104.8,67.6 105.1,66.7 105.4,65.8 105.7,64.9 106.0,64.0 106.8,63.4 107.7,62.7 108.6,62.0 109.4,61.4 111.0,62.0 111.5,62.8 112.0,63.5 112.5,64.2 113.0,65.0 113.3,65.9 113.6,66.8 113.9,67.7 114.2,68.6 114.4,69.4 114.7,70.3 115.0,71.2 115.3,72.1 115.6,73.0 115.8,73.9 116.0,74.8 116.1,75.7 116.3,76.6 116.5,77.5 116.7,78.5 116.9,79.4 117.1,80.3 117.2,81.2 117.4,82.1 117.6,83.0 117.7,84.0 117.9,85.0 118.0,86.0 118.2,87.0 118.3,88.0 118.5,89.0 118.6,90.0 118.7,90.9 118.9,91.9 119.0,92.8 119.2,93.7 119.3,94.7 119.5,95.6 119.6,96.6 119.8,97.5 119.9,98.4 120.1,99.4 120.2,100.3 120.3,101.2 120.5,102.2 120.6,103.1 120.7,104.0 120.9,105.0 121.0,105.9 121.2,106.9 121.3,107.8 121.4,108.7 121.6,109.7 121.7,110.6 121.8,111.5 121.9,112.5 122.1,113.4 122.2,114.4 122.3,115.3 122.4,116.2 122.5,117.2 122.7,118.1 122.8,119.1 122.9,120.0 123.1,120.9 123.2,121.8 123.4,122.7 123.5,123.6 123.7,124.4 123.8,125.3 124.0,126.2 124.1,127.1 124.3,128.0 124.5,129.0 124.6,129.9 124.8,130.9 125.0,131.9 125.2,132.9 125.3,133.8 125.5,134.8 125.7,135.7 125.9,136.6 126.1,137.5 126.4,138.3 126.6,139.2 126.8,140.1 127.0,141.0 127.2,141.9 127.4,142.9 127.7,143.8 127.9,144.8 128.1,145.6 128.3,146.2 128.7,147.7 129.2,149.3 129.6,149.8 130.0,150.1 130.5,152.1 130.9,153.0 131.4,154.1 132.0,155.3 132.6,155.9 133.1,156.8 133.7,156.8 134.5,158.9 135.4,159.2 136.2,157.6 137.1,159.5 138.0,159.9 138.8,159.9 139.7,160.5 140.6,161.0 141.8,162.1 142.9,160.6 144.0,161.8 145.2,160.5 146.3,162.1 147.2,162.5 148.0,161.7 148.8,162.4 149.7,163.9 150.8,163.2 152.0,162.4 153.1,161.5 154.3,162.0 155.4,163.4 156.6,162.0 157.7,164.0 158.9,161.8 160.0,163.6 161.0,161.6 162.0,163.6 163.0,162.6 164.0,162.3 165.0,162.6 166.0,163.2 167.0,163.3 168.0,162.8 169.0,162.6 170.0,163.7 171.0,165.1 172.0,164.2 173.0,162.5 174.0,165.0 175.0,164.7 176.0,165.4 177.0,163.4 178.0,165.2 179.0,163.3 180.0,165.3 181.0,164.3 182.0,164.2 183.0,166.4 184.0,164.0 185.0,165.5 186.0,166.6 187.0,164.8 188.0,164.7 189.0,167.0 190.0,165.5 191.0,166.6 192.0,164.4 193.0,165.6 193.9,165.3 194.8,167.0 195.7,165.6 196.6,168.3 197.5,165.9 198.4,168.2 199.3,166.4 200.2,167.3 201.1,169.1 202.0,167.5 202.9,167.7 203.8,169.4 204.8,168.6 205.7,167.7 206.6,170.8 207.5,168.4 208.5,168.2 209.4,169.3 210.3,170.2 211.2,170.8 212.2,169.0 213.1,169.8 214.0,169.0 215.0,170.5 216.0,171.6 217.0,171.6 218.0,172.3 219.0,171.9 220.0,172.4 221.0,172.0 222.0,171.4 223.0,171.1 224.0,172.7 225.0,172.1 226.0,172.3 226.5,173.7 227.0,175.1 227.5,174.6 228.0,176.1 228.4,176.7 228.9,177.8 229.3,178.1 229.8,180.2 230.2,180.2 230.7,181.5 231.1,182.1 231.6,182.6 232.0,184.1 232.4,184.5 232.8,185.3 233.2,186.2 233.6,187.2 234.0,188.1 234.4,189.5 234.8,190.3 235.2,191.7 235.6,192.6 236.0,193.6 236.5,193.6 237.0,194.7 237.5,195.3 238.0,196.6 238.5,197.5 239.0,198.6 239.5,199.4 240.0,199.6 240.8,200.5 241.6,201.2 242.4,200.9 243.2,201.6 244.0,202.8 245.0,202.2 246.0,203.8 247.0,202.8 248.0,202.7 249.0,202.7 250.0,202.7 251.0,202.5 252.0,203.0 253.0,202.8 254.0,202.2 255.0,202.8 256.0,201.7 257.0,203.1 258.0,202.8 258.8,201.9 259.5,200.9 260.2,200.5 261.0,200.1 261.7,198.6 262.3,198.5 263.0,198.0 263.7,196.8 264.3,196.0 265.0,196.6 265.8,195.3 266.6,195.0 267.4,195.3 268.2,194.2 269.0,193.0 270.0,194.3 271.0,192.7 272.0,191.7 273.0,193.0 274.0,191.6 275.0,192.2 276.0,193.6 277.0,193.2 278.0,191.7 279.0,192.8 280.0,192.8 280.9,192.9 281.8,192.2 282.7,193.1 283.6,191.7 284.5,192.2 285.5,192.4 286.4,193.8 287.3,191.6 288.2,193.2 289.1,191.8 290.0,192.7 290.9,192.3 291.8,192.5 292.7,193.3 293.6,192.4 294.5,191.8 295.5,191.8 296.4,191.8 297.3,193.7 298.2,193.3 299.1,194.1 300.0,193.5 300.9,191.8 301.8,193.3 302.7,193.6 303.6,193.4 304.5,192.8 305.5,192.4 306.4,192.6 307.3,193.4 308.2,192.0 309.1,192.6 310.0,192.4 310.9,193.7 311.8,193.4 312.7,193.7 313.6,193.5 314.5,192.2 315.5,192.1 316.4,192.8 317.3,192.3 318.2,192.7 319.1,193.4 320.0,193.0" fill="none" stroke="#ff2a2a" stroke-width="1.4" stroke-linejoin="round"/>
<polyline points="54.0,191.4 55.0,192.2 56.0,191.9 57.0,192.6 58.0,192.8 59.0,191.5 60.0,191.4 61.0,193.6 62.0,192.2 63.0,192.1 64.0,193.9 65.0,192.5 66.0,193.3 67.0,192.5 68.0,193.0 69.0,191.9 70.0,193.1 71.0,193.7 72.1,192.7 73.1,193.0 74.0,192.2 74.8,190.5 75.7,191.1 76.6,190.1 77.1,188.9 77.6,187.7 78.1,187.9 78.6,186.5 79.1,186.0 79.6,185.3 80.1,184.0 80.7,183.1 81.2,182.3 81.7,181.4 82.1,180.5 82.6,179.5 83.0,178.6 83.5,177.6 83.9,176.7 84.1,175.8 84.3,174.9 84.5,174.0 84.7,173.1 84.8,172.2 85.0,171.3 85.2,170.4 85.4,169.5 85.6,168.6 85.8,167.6 86.0,166.7 86.2,165.7 86.4,164.8 86.5,163.8 86.7,162.9 86.9,161.9 87.1,161.0 87.3,160.0 87.4,159.1 87.5,158.2 87.7,157.3 87.8,156.4 87.9,155.5 88.0,154.5 88.2,153.6 88.3,152.7 88.4,151.8 88.5,150.9 88.7,150.0 88.8,149.1 88.9,148.2 89.0,147.3 89.1,146.4 89.3,145.5 89.4,144.5 89.5,143.6 89.6,142.7 89.8,141.8 89.9,140.9 90.0,140.0 90.1,139.1 90.2,138.2 90.4,137.3 90.5,136.4 90.6,135.5 90.7,134.5 90.8,133.6 91.0,132.7 91.1,131.8 91.2,130.9 91.3,130.0 91.5,129.1 91.6,128.2 91.7,127.3 91.8,126.4 91.9,125.5 92.1,124.5 92.2,123.6 92.3,122.7 92.4,121.8 92.5,120.9 92.7,120.0 92.8,119.1 92.9,118.2 93.0,117.3 93.2,116.4 93.3,115.5 93.4,114.5 93.5,113.6 93.6,112.7 93.8,111.8 93.9,110.9 94.0,110.0 94.1,109.1 94.3,108.2 94.4,107.3 94.5,106.4 94.7,105.5 94.8,104.6 94.9,103.7 95.1,102.8 95.2,101.9 95.3,101.0 95.5,100.1 95.6,99.2 95.7,98.3 95.9,97.4 96.0,96.5 96.1,95.6 96.3,94.7 96.4,93.8 96.5,92.9 96.7,92.0 96.8,91.1 96.9,90.2 97.1,89.3 97.2,88.4 97.3,87.5 97.5,86.6 97.6,85.7 97.7,84.8 97.9,83.9 98.0,83.0 98.2,82.1 98.4,81.1 98.6,80.2 98.8,79.2 98.9,78.3 99.1,77.4 99.3,76.4 99.5,75.5 99.7,74.6 99.9,73.6 100.1,72.7 100.2,71.8 100.4,70.8 100.6,69.9 100.8,68.9 101.0,68.0 101.2,67.1 101.4,66.2 101.6,65.3 101.8,64.4 102.0,63.5 102.2,62.6 102.4,61.7 102.6,60.8 102.8,59.9 103.0,59.0 103.2,58.1 103.5,57.2 103.7,56.2 103.9,55.3 104.2,54.4 104.4,53.5 104.6,52.5 104.8,51.6 105.1,50.7 105.3,49.8 105.5,48.8 105.8,47.9 106.0,47.0 106.3,46.1 106.7,45.2 107.0,44.3 107.3,43.4 107.7,42.6 108.0,41.7 108.3,40.8 108.7,39.9 109.0,39.0 109.3,40.0 109.6,41.0 109.9,42.0 110.2,43.0 110.5,44.0 110.6,45.0 110.8,46.0 110.9,47.0 111.1,48.0 111.2,49.0 111.4,50.0 111.5,51.0 111.6,51.9 111.6,52.8 111.7,53.7 111.8,54.6 111.8,55.5 111.9,56.5 112.0,57.4 112.0,58.3 112.1,59.2 112.2,60.1 112.2,61.0 112.3,61.9 112.4,62.8 112.5,63.7 112.5,64.6 112.6,65.5 112.7,66.5 112.7,67.4 112.8,68.3 112.9,69.2 112.9,70.1 113.0,71.0 113.1,71.9 113.1,72.8 113.2,73.7 113.3,74.6 113.3,75.5 113.4,76.4 113.5,77.3 113.5,78.2 113.6,79.1 113.7,80.0 113.7,81.0 113.8,81.9 113.9,82.8 113.9,83.7 114.0,84.6 114.1,85.5 114.1,86.4 114.2,87.3 114.3,88.2 114.3,89.1 114.4,90.0 114.5,90.9 114.6,91.8 114.7,92.7 114.8,93.6 114.8,94.5 114.9,95.4 115.0,96.3 115.1,97.2 115.2,98.1 115.3,99.0 115.4,99.9 115.5,100.8 115.6,101.7 115.7,102.6 115.7,103.5 115.8,104.4 115.9,105.3 116.0,106.2 116.1,107.1 116.2,108.0 116.3,108.9 116.4,109.8 116.5,110.7 116.6,111.6 116.7,112.5 116.8,113.4 116.9,114.3 117.0,115.2 117.0,116.2 117.1,117.1 117.2,118.0 117.3,118.9 117.4,119.8 117.5,120.7 117.6,121.6 117.7,122.5 117.8,123.4 117.9,124.3 118.0,125.2 118.1,126.1 118.2,127.0 118.3,127.9 118.4,128.8 118.5,129.7 118.6,130.6 118.7,131.5 118.8,132.5 118.9,133.4 119.0,134.3 119.1,135.2 119.2,136.1 119.3,137.0 119.4,137.9 119.5,138.8 119.6,139.7 119.8,140.6 119.9,141.6 120.1,142.5 120.3,143.4 120.4,144.3 120.6,145.3 120.8,146.2 121.0,147.1 121.1,148.1 121.3,149.0 121.7,150.0 122.2,151.3 122.6,152.5 123.0,152.8 123.6,154.2 124.1,154.3 124.7,155.9 125.3,156.5 125.9,155.9 126.4,156.7 127.0,157.6 127.5,159.6 128.0,159.9 128.5,161.2 129.0,161.5 129.9,162.4 130.7,162.6 131.6,162.9 132.4,163.9 133.3,164.3 134.1,165.5 135.0,165.5 136.0,166.4 137.0,166.4 138.0,166.9 139.0,166.2 140.0,164.9 141.0,166.9 141.9,167.5 142.7,167.6 143.6,167.0 144.4,167.7 145.3,166.7 146.1,168.6 147.0,168.2 148.0,167.3 149.0,166.6 150.0,169.1 151.0,169.6 152.0,166.7 153.0,169.0 154.0,167.7 155.0,166.9 156.0,167.3 157.0,168.9 158.0,169.2 159.0,166.5 160.0,168.4 161.0,166.5 162.0,168.7 163.0,167.5 164.0,169.3 165.0,169.7 166.0,168.4 167.0,170.0 168.0,168.1 169.0,167.5 170.0,169.2 171.0,167.6 172.0,168.2 173.0,169.0 174.0,169.7 175.0,168.5 176.0,168.3 177.0,170.8 178.0,169.3 179.0,171.4 180.0,171.3 181.0,169.9 182.0,170.3 183.0,170.6 184.0,171.1 185.0,171.0 186.0,171.1 187.0,171.3 188.0,172.4 189.0,171.4 190.0,171.3 191.0,172.3 192.0,171.1 193.0,171.4 193.9,173.5 194.8,172.5 195.7,172.7 196.6,171.4 197.5,172.8 198.4,173.4 199.3,172.1 200.2,173.9 201.1,174.2 202.0,172.7 202.9,174.5 203.8,174.2 204.8,175.0 205.7,174.2 206.6,175.4 207.5,175.6 208.5,173.7 209.4,174.0 210.3,175.9 211.2,176.9 212.2,175.0 213.1,175.7 214.0,176.3 214.9,175.7 215.8,176.0 216.7,176.1 217.6,176.4 218.5,177.3 219.4,176.6 220.3,177.1 221.2,178.4 222.1,176.5 223.0,178.1 223.7,179.1 224.4,178.7 225.1,179.1 225.9,180.9 226.6,180.3 227.3,180.8 228.0,181.9 228.4,183.2 228.9,183.2 229.3,184.4 229.8,185.3 230.2,186.8 230.7,187.3 231.1,188.6 231.6,188.7 232.0,189.8 232.5,191.0 233.0,192.1 233.5,192.3 234.0,192.9 234.5,193.5 235.0,194.8 235.5,195.2 236.0,196.8 236.5,197.6 237.0,197.5 237.7,198.3 238.3,199.8 239.0,200.2 239.7,201.1 240.3,201.1 241.0,201.2 242.0,202.0 243.0,203.4 244.0,202.7 245.0,203.3 246.0,203.8 247.0,204.1 248.0,204.3 249.0,205.7 250.0,204.3 250.9,203.7 251.7,205.4 252.6,205.0 253.4,204.9 254.3,203.4 255.1,204.2 256.0,203.7 256.8,201.9 257.6,202.2 258.4,201.8 259.2,200.9 260.0,200.0 260.7,199.0 261.3,198.4 262.0,197.6 262.7,196.7 263.3,196.8 264.0,195.6 264.8,195.9 265.6,194.0 266.4,194.9 267.2,193.9 268.0,193.9 269.0,193.6 270.0,193.4 271.0,192.4 272.0,190.7 273.0,192.6 274.0,191.1 275.0,191.5 276.0,192.4 277.0,192.1 278.0,191.8 279.0,193.1 280.0,192.3 280.9,191.6 281.8,191.3 282.7,192.8 283.6,191.8 284.5,192.5 285.5,191.4 286.4,190.9 287.3,191.7 288.2,192.4 289.1,190.7 290.0,192.2 290.9,192.6 291.8,192.4 292.7,192.5 293.6,190.4 294.5,192.1 295.5,192.7 296.4,190.7 297.3,191.3 298.2,191.3 299.1,192.0 300.0,191.8 300.9,191.9 301.8,192.6 302.7,190.6 303.6,190.7 304.5,190.8 305.5,190.8 306.4,190.6 307.3,192.8 308.2,192.5 309.1,190.5 310.0,191.5 310.9,191.1 311.8,191.1 312.7,191.3 313.6,192.1 314.5,191.9 315.5,191.4 316.4,191.0 317.3,191.4 318.2,191.0 319.1,192.1 320.0,192.0" fill="none" stroke="#2a2aff" stroke-width="1.4" stroke-linejoin="round"/>
<polyline points="54.0,191.4 55.0,191.2 56.0,192.0 57.0,191.5 58.0,191.4 59.0,192.3 60.0,193.7 61.0,193.5 62.0,193.5 63.0,192.0 64.0,192.7 65.0,192.0 66.0,191.7 67.0,191.6 68.0,191.9 69.0,193.8 70.0,193.6 71.0,193.5 72.1,193.4 73.1,192.1 74.0,191.6 74.8,191.5 75.7,191.1 76.6,190.4 77.1,189.6 77.6,187.8 78.1,187.5 78.6,186.8 79.1,185.7 79.6,184.4 80.1,184.0 80.7,183.1 81.2,182.3 81.7,181.4 82.1,180.5 82.6,179.5 83.0,178.6 83.5,177.6 83.9,176.7 84.1,175.8 84.3,174.9 84.5,174.0 84.7,173.1 84.8,172.2 85.0,171.3 85.2,170.4 85.4,169.5 85.6,168.6 85.8,167.6 86.0,166.7 86.2,165.7 86.4,164.8 86.5,163.8 86.7,162.9 86.9,161.9 87.1,161.0 87.3,160.0 87.4,159.1 87.4,158.2 87.5,157.2 87.5,156.3 87.6,155.4 87.6,154.5 87.7,153.5 87.7,152.6 87.8,151.7 87.8,150.8 87.9,149.8 87.9,148.9 88.0,148.0 88.1,147.1 88.2,146.2 88.3,145.3 88.4,144.4 88.5,143.5 88.6,142.6 88.7,141.7 88.8,140.8 88.9,139.9 89.0,139.0 89.1,138.1 89.2,137.2 89.3,136.3 89.4,135.4 89.5,134.5 89.6,133.6 89.7,132.7 89.8,131.8 89.9,130.9 90.0,130.0 90.1,129.1 90.2,128.2 90.3,127.3 90.4,126.4 90.5,125.5 90.6,124.6 90.7,123.7 90.8,122.8 90.9,121.9 91.0,121.0 91.1,120.1 91.2,119.2 91.3,118.3 91.4,117.4 91.5,116.5 91.6,115.6 91.7,114.7 91.8,113.8 91.9,112.9 92.0,112.0 92.1,111.1 92.3,110.2 92.4,109.3 92.6,108.3 92.7,107.4 92.9,106.5 93.0,105.6 93.1,104.7 93.3,103.8 93.4,102.9 93.6,101.9 93.7,101.0 93.9,100.1 94.0,99.2 94.1,98.3 94.3,97.4 94.4,96.5 94.6,95.5 94.7,94.6 94.9,93.7 95.0,92.8 95.1,91.9 95.3,91.0 95.4,90.1 95.6,89.1 95.7,88.2 95.9,87.3 96.0,86.4 96.1,85.5 96.3,84.6 96.4,83.7 96.6,82.7 96.7,81.8 96.9,80.9 97.0,80.0 97.2,79.1 97.4,78.2 97.5,77.3 97.7,76.4 97.9,75.5 98.1,74.6 98.2,73.8 98.4,72.9 98.6,72.0 98.8,71.1 99.0,70.2 99.1,69.3 99.3,68.4 99.5,67.5 99.7,66.6 99.9,65.7 100.0,64.8 100.2,63.9 100.4,63.0 100.6,62.1 100.8,61.2 100.9,60.4 101.1,59.5 101.3,58.6 101.5,57.7 101.6,56.8 101.8,55.9 102.0,55.0 102.2,54.1 102.3,53.2 102.5,52.2 102.7,51.3 102.8,50.4 103.0,49.5 103.2,48.6 103.3,47.7 103.5,46.8 103.7,45.8 103.8,44.9 104.0,44.0 104.2,43.1 104.3,42.2 104.5,41.2 104.7,40.3 104.8,39.4 105.0,38.5 105.2,37.6 105.3,36.7 105.5,35.8 105.7,34.8 105.8,33.9 106.0,33.0 106.2,32.1 106.4,31.1 106.7,30.2 106.9,29.3 107.1,28.3 107.3,27.4 107.6,26.5 107.8,25.5 108.0,24.6 108.2,25.5 108.4,26.5 108.5,27.4 108.7,28.4 108.9,29.3 109.1,30.3 109.3,31.2 109.5,32.2 109.6,33.1 109.8,34.1 110.0,35.0 110.1,35.9 110.1,36.8 110.2,37.7 110.3,38.6 110.4,39.5 110.4,40.5 110.5,41.4 110.6,42.3 110.7,43.2 110.7,44.1 110.8,45.0 110.9,45.9 110.9,46.8 111.0,47.7 111.1,48.6 111.2,49.5 111.2,50.5 111.3,51.4 111.4,52.3 111.5,53.2 111.5,54.1 111.6,55.0 111.7,55.9 111.7,56.8 111.8,57.7 111.9,58.6 111.9,59.5 112.0,60.5 112.0,61.4 112.1,62.3 112.2,63.2 112.2,64.1 112.3,65.0 112.4,65.9 112.4,66.8 112.5,67.7 112.6,68.6 112.6,69.5 112.7,70.5 112.7,71.4 112.8,72.3 112.9,73.2 112.9,74.1 113.0,75.0 113.0,75.9 113.1,76.9 113.1,77.8 113.2,78.8 113.2,79.7 113.2,80.6 113.3,81.6 113.3,82.5 113.3,83.4 113.4,84.4 113.4,85.3 113.4,86.2 113.5,87.2 113.5,88.1 113.6,89.1 113.6,90.0 113.7,90.9 113.8,91.8 113.9,92.7 114.0,93.6 114.0,94.5 114.1,95.4 114.2,96.3 114.3,97.2 114.4,98.1 114.5,99.0 114.6,99.9 114.7,100.8 114.8,101.7 114.9,102.6 114.9,103.5 115.0,104.4 115.1,105.3 115.2,106.2 115.3,107.1 115.4,108.0 115.5,108.9 115.6,109.8 115.7,110.7 115.7,111.6 115.8,112.5 115.9,113.4 116.0,114.3 116.1,115.2 116.2,116.2 116.3,117.1 116.4,118.0 116.5,118.9 116.6,119.8 116.6,120.7 116.7,121.6 116.8,122.5 116.9,123.4 117.0,124.3 117.1,125.2 117.2,126.1 117.3,127.0 117.4,127.9 117.5,128.8 117.6,129.7 117.7,130.6 117.8,131.5 117.9,132.5 118.0,133.4 118.1,134.3 118.2,135.2 118.3,136.1 118.4,137.0 118.5,137.9 118.6,138.8 118.7,139.7 118.8,140.6 119.0,141.6 119.1,142.5 119.3,143.4 119.4,144.3 119.5,145.3 119.7,146.2 119.8,147.1 120.0,148.1 120.1,149.0 120.4,150.0 120.7,151.0 121.0,152.0 121.4,153.0 121.7,154.0 122.0,155.0 122.5,155.1 123.0,157.4 123.5,158.1 124.0,158.4 124.5,158.8 125.0,160.7 125.5,160.9 126.0,162.2 126.5,162.9 127.0,163.0 127.5,163.6 128.0,164.7 128.5,165.1 129.0,165.1 129.9,165.9 130.7,167.7 131.6,166.1 132.4,166.5 133.3,168.5 134.1,168.0 135.0,169.1 135.9,169.2 136.7,169.1 137.6,171.3 138.4,169.2 139.3,170.2 140.1,169.8 141.0,171.4 142.0,170.4 143.0,170.8 144.0,172.2 145.0,170.9 146.0,171.8 147.0,173.1 148.0,170.5 149.0,170.5 150.0,171.2 151.0,173.1 152.0,172.8 153.0,171.6 154.0,172.1 155.0,171.7 156.0,172.7 157.0,171.5 158.0,173.8 159.0,174.6 160.0,174.9 161.0,174.3 162.0,175.2 163.0,172.1 164.0,173.2 165.0,175.6 166.0,175.0 167.0,173.8 168.0,175.7 169.0,174.6 170.0,175.4 171.0,173.6 172.0,173.3 173.0,174.2 174.0,173.2 175.0,174.1 176.0,176.2 177.0,174.1 178.0,173.1 179.0,173.3 180.0,173.8 181.0,175.9 182.0,174.7 183.0,174.6 184.0,174.0 185.0,177.1 186.0,175.4 187.0,174.8 188.0,174.4 189.0,174.8 190.0,175.6 191.0,177.5 192.0,176.6 193.0,176.5 193.9,178.1 194.8,177.4 195.7,180.0 196.6,177.1 197.5,178.6 198.4,179.5 199.3,178.4 200.2,180.4 201.1,178.8 202.0,178.2 202.9,178.9 203.8,177.8 204.8,179.2 205.7,178.8 206.6,181.0 207.5,181.0 208.5,180.1 209.4,178.7 210.3,179.6 211.2,179.7 212.2,179.7 213.1,180.0 214.0,182.1 214.9,180.3 215.8,180.4 216.7,183.2 217.6,182.5 218.4,184.1 219.3,182.7 220.2,184.5 221.1,184.1 222.0,184.7 222.8,185.1 223.5,185.0 224.2,184.5 225.0,185.3 225.8,187.4 226.5,188.0 227.2,188.6 228.0,187.6 228.7,189.1 229.4,190.1 230.1,190.5 230.9,191.5 231.6,191.6 232.3,192.6 233.0,193.2 233.4,193.6 233.9,195.3 234.3,196.2 234.7,195.9 235.1,197.9 235.6,198.7 236.0,199.3 236.7,198.8 237.3,201.1 238.0,200.3 238.7,202.5 239.3,202.6 240.0,202.0 241.0,202.8 242.0,204.3 243.0,204.7 244.0,205.4 244.6,206.5 245.2,206.2 245.8,206.6 246.4,208.9 247.0,208.0 247.8,209.3 248.5,207.2 249.2,208.1 250.0,207.6 251.0,207.4 252.0,206.1 253.0,206.4 254.0,204.4 254.8,204.9 255.7,203.6 256.5,204.3 257.3,203.6 258.2,202.4 259.0,202.0 259.6,200.4 260.2,199.7 260.8,199.8 261.4,198.8 262.0,198.7 262.7,197.5 263.3,196.0 264.0,195.8 264.7,195.8 265.3,194.7 266.0,193.0 266.8,194.1 267.6,193.5 268.4,191.4 269.2,191.7 270.0,190.7 271.0,191.6 272.0,190.1 273.0,189.7 274.0,190.2 275.0,191.4 275.9,188.8 276.8,188.8 277.7,190.4 278.6,191.2 279.5,190.0 280.5,189.8 281.4,191.1 282.3,190.8 283.2,188.7 284.1,191.1 285.0,189.1 285.9,189.4 286.8,191.0 287.7,189.8 288.6,190.9 289.5,189.0 290.5,191.1 291.4,189.0 292.3,188.9 293.2,190.0 294.1,189.5 295.0,190.1 295.9,191.2 296.8,190.6 297.7,188.5 298.6,189.4 299.5,190.1 300.5,190.0 301.4,190.6 302.3,190.0 303.2,188.7 304.1,189.2 305.0,191.0 305.9,189.6 306.9,190.8 307.8,191.5 308.8,190.4 309.7,190.5 310.6,190.3 311.6,189.4 312.5,191.2 313.4,189.9 314.4,191.2 315.3,189.4 316.2,191.1 317.2,190.9 318.1,190.3 319.1,189.8 320.0,190.0" fill="none" stroke="#2aee2a" stroke-width="1.4" stroke-linejoin="round"/>
</g>
<ellipse cx="84.9" cy="166.9" rx="5.5" ry="10.3" fill="none" stroke="#111" stroke-width="1"/>
<line x1="77" y1="176.4" x2="61" y2="176.4" stroke="#111" stroke-width="1"/>
<path d="M57,176.4 L63,174.4 L63,178.4 Z" fill="#111"/>
<line x1="277" y1="164.7" x2="291" y2="164.7" stroke="#111" stroke-width="1.4" stroke-dasharray="3 2"/>
<path d="M297.8,164.7 L291,162.9 L291,166.5 Z" fill="#111"/>
<rect x="261.5" y="8" width="51" height="113.2" fill="#fff" stroke="#999" stroke-width="1"/>
<line x1="263" y1="17.2" x2="288" y2="17.2" stroke="#222" stroke-width="1.6" opacity="0.9"/>
<text x="290.8" y="21.099999999999998" font-family="Liberation Serif" font-weight="bold" font-size="11.5" textLength="18.8" lengthAdjust="spacingAndGlyphs" fill="#000">3kV</text>
<line x1="263" y1="31" x2="288" y2="31" stroke="#222" stroke-width="1.6" opacity="0.9" stroke-dasharray="1.8 1.2"/>
<line x1="263" y1="45" x2="288" y2="45" stroke="#ff2a2a" stroke-width="1.6" opacity="0.9"/>
<text x="290.8" y="48.9" font-family="Liberation Serif" font-weight="bold" font-size="11.5" textLength="18.8" lengthAdjust="spacingAndGlyphs" fill="#000">4kV</text>
<line x1="263" y1="58.8" x2="288" y2="58.8" stroke="#ff2a2a" stroke-width="1.6" opacity="0.9" stroke-dasharray="1.8 1.2"/>
<line x1="263" y1="72.3" x2="288" y2="72.3" stroke="#2a2aff" stroke-width="1.6" opacity="0.9"/>
<text x="290.8" y="76.2" font-family="Liberation Serif" font-weight="bold" font-size="11.5" textLength="18.8" lengthAdjust="spacingAndGlyphs" fill="#000">5kV</text>
<line x1="263" y1="86.6" x2="288" y2="86.6" stroke="#2a2aff" stroke-width="1.6" opacity="0.9" stroke-dasharray="1.8 1.2"/>
<line x1="263" y1="100.1" x2="288" y2="100.1" stroke="#2aee2a" stroke-width="1.6" opacity="0.9"/>
<text x="290.8" y="104.0" font-family="Liberation Serif" font-weight="bold" font-size="11.5" textLength="18.8" lengthAdjust="spacingAndGlyphs" fill="#000">6kV</text>
<line x1="263" y1="113.9" x2="288" y2="113.9" stroke="#2aee2a" stroke-width="1.6" opacity="0.9" stroke-dasharray="1.8 1.2"/>
<rect x="54" y="8" width="266.8" height="215" fill="none" stroke="#7b7b7b" stroke-width="2"/>
<line x1="49" y1="222.5" x2="53" y2="222.5" stroke="#333" stroke-width="1"/>
<text x="46.5" y="226.4" text-anchor="end" font-family="Liberation Serif" font-weight="bold" font-size="12.5" fill="#000">-1</text>
<line x1="49" y1="189.5" x2="53" y2="189.5" stroke="#333" stroke-width="1"/>
<text x="46.5" y="193.3" text-anchor="end" font-family="Liberation Serif" font-weight="bold" font-size="12.5" fill="#000">0</text>
<line x1="49" y1="156.5" x2="53" y2="156.5" stroke="#333" stroke-width="1"/>
<text x="46.5" y="160.2" text-anchor="end" font-family="Liberation Serif" font-weight="bold" font-size="12.5" fill="#000">1</text>
<line x1="49" y1="123.5" x2="53" y2="123.5" stroke="#333" stroke-width="1"/>
<text x="46.5" y="127.1" text-anchor="end" font-family="Liberation Serif" font-weight="bold" font-size="12.5" fill="#000">2</text>
<line x1="49" y1="90.5" x2="53" y2="90.5" stroke="#333" stroke-width="1"/>
<text x="46.5" y="94.1" text-anchor="end" font-family="Liberation Serif" font-weight="bold" font-size="12.5" fill="#000">3</text>
<line x1="49" y1="57.5" x2="53" y2="57.5" stroke="#333" stroke-width="1"/>
<text x="46.5" y="61.0" text-anchor="end" font-family="Liberation Serif" font-weight="bold" font-size="12.5" fill="#000">4</text>
<line x1="49" y1="24.5" x2="53" y2="24.5" stroke="#333" stroke-width="1"/>
<text x="46.5" y="27.9" text-anchor="end" font-family="Liberation Serif" font-weight="bold" font-size="12.5" fill="#000">5</text>
<line x1="51.2" y1="206.5" x2="53" y2="206.5" stroke="#333" stroke-width="1"/>
<line x1="51.2" y1="173.5" x2="53" y2="173.5" stroke="#333" stroke-width="1"/>
<line x1="51.2" y1="140.5" x2="53" y2="140.5" stroke="#333" stroke-width="1"/>
<line x1="51.2" y1="107.5" x2="53" y2="107.5" stroke="#333" stroke-width="1"/>
<line x1="51.2" y1="74.5" x2="53" y2="74.5" stroke="#333" stroke-width="1"/>
<line x1="51.2" y1="41.5" x2="53" y2="41.5" stroke="#333" stroke-width="1"/>
<line x1="87.5" y1="224" x2="87.5" y2="228" stroke="#333" stroke-width="1"/>
<text x="87.2" y="239.4" text-anchor="middle" font-family="Liberation Serif" font-weight="bold" font-size="12.5" fill="#000">0</text>
<line x1="153.5" y1="224" x2="153.5" y2="228" stroke="#333" stroke-width="1"/>
<text x="153.8" y="239.4" text-anchor="middle" font-family="Liberation Serif" font-weight="bold" font-size="12.5" fill="#000">100</text>
<line x1="220.5" y1="224" x2="220.5" y2="228" stroke="#333" stroke-width="1"/>
<text x="220.4" y="239.4" text-anchor="middle" font-family="Liberation Serif" font-weight="bold" font-size="12.5" fill="#000">200</text>
<line x1="287.5" y1="224" x2="287.5" y2="228" stroke="#333" stroke-width="1"/>
<text x="287.0" y="239.4" text-anchor="middle" font-family="Liberation Serif" font-weight="bold" font-size="12.5" fill="#000">300</text>
<line x1="120.5" y1="224" x2="120.5" y2="226" stroke="#333" stroke-width="1"/>
<line x1="187.5" y1="224" x2="187.5" y2="226" stroke="#333" stroke-width="1"/>
<line x1="253.5" y1="224" x2="253.5" y2="226" stroke="#333" stroke-width="1"/>
<line x1="316" y1="189.5" x2="320" y2="189.5" stroke="#333" stroke-width="1"/>
<text x="325.2" y="193.2" font-family="Liberation Serif" font-weight="bold" font-size="12.5" fill="#000">0</text>
<line x1="316" y1="123.5" x2="320" y2="123.5" stroke="#333" stroke-width="1"/>
<text x="325.2" y="127.0" font-family="Liberation Serif" font-weight="bold" font-size="12.5" fill="#000">2</text>
<line x1="316" y1="57.5" x2="320" y2="57.5" stroke="#333" stroke-width="1"/>
<text x="325.2" y="60.9" font-family="Liberation Serif" font-weight="bold" font-size="12.5" fill="#000">4</text>
<line x1="318" y1="156.5" x2="320" y2="156.5" stroke="#333" stroke-width="1"/>
<line x1="318" y1="90.5" x2="320" y2="90.5" stroke="#333" stroke-width="1"/>
<line x1="318" y1="24.5" x2="320" y2="24.5" stroke="#333" stroke-width="1"/>
<text x="165.5" y="259.5" font-family="Liberation Serif" font-weight="bold" font-size="11.6" textLength="44.6" lengthAdjust="spacingAndGlyphs" fill="#000">Time (ns)</text>
<text transform="translate(23.5,110.6) rotate(-90)" text-anchor="middle" font-family="Liberation Serif" font-weight="bold" font-size="14.5" fill="#000">Voltage (kV)</text>
<text transform="translate(347,115.1) rotate(-90)" text-anchor="middle" font-family="Liberation Serif" font-weight="bold" font-size="14.4" fill="#000">Current (A)</text>
<text x="0.5" y="12.9" font-family="Liberation Serif" font-weight="bold" font-size="18" fill="#000">(a)</text>
<polyline points="54.0,490.8 54.9,490.8 55.9,490.8 56.8,490.8 57.7,490.8 58.6,490.8 59.6,490.8 60.5,490.8 61.4,490.8 62.4,490.8 63.3,490.8 64.2,490.8 65.1,490.8 66.1,490.8 67.0,490.8 67.9,490.8 68.9,490.8 69.8,490.8 70.7,490.8 71.6,490.8 72.6,490.8 73.5,490.8 74.4,490.8 75.4,490.8 76.3,490.8 77.2,490.8 78.1,490.8 79.1,490.8 80.0,490.8 81.0,490.6 82.0,490.4 83.0,490.2 84.0,490.0 85.0,490.2 86.0,490.4 87.0,490.6 88.2,491.1 89.4,491.5 90.3,491.2 91.1,490.8 92.0,490.5 93.0,490.2 94.0,490.0 95.0,490.5 96.0,491.0 97.0,491.5 98.0,492.0 98.8,492.5 99.5,493.0 100.2,493.6 101.0,494.3 101.8,493.8 102.5,493.5 103.2,492.8 104.0,492.5 104.8,490.9 105.6,490.8 106.4,490.7 107.2,489.8 108.0,489.5 109.0,488.7 110.0,489.5 111.0,489.4 112.0,490.1 113.0,489.9 114.0,489.0 115.0,489.1 115.9,488.8 116.8,489.2 117.8,488.6 118.7,487.5 119.6,487.8 120.5,486.6 121.4,486.6 122.3,485.6 123.2,484.9 124.1,485.5 125.0,484.2 125.9,483.8 126.9,484.3 127.8,483.7 128.7,482.6 129.4,482.7 130.2,481.7 130.9,481.3 131.7,480.2 132.4,480.3 132.8,479.3 133.2,478.7 133.6,477.8 134.0,476.6 134.3,475.8 134.7,474.8 135.1,474.0 135.5,473.1 135.9,472.5 136.3,471.9 136.7,470.6 137.1,470.3 137.5,469.2 137.9,468.4 138.3,467.9 138.7,466.9 139.6,466.5 140.6,466.6 141.5,466.7 142.4,465.8 143.3,467.4 144.2,466.9 145.0,468.3 145.9,469.0 146.8,468.4 147.6,469.8 148.5,469.6 149.3,470.3 150.3,469.6 151.2,469.7 152.2,470.0 153.2,471.3 154.2,470.2 155.1,471.2 156.1,471.5 157.1,471.7 158.1,471.0 159.1,471.2 160.0,471.6 161.0,472.1 162.0,471.3 163.0,472.4 164.0,472.6 165.0,472.8 166.0,471.8 166.9,473.3 167.9,472.2 168.9,472.7 169.9,473.3 170.9,473.7 171.8,472.7 172.8,473.6 173.8,472.9 174.8,472.5 175.7,472.5 176.7,472.2 177.7,472.1 178.7,472.3 179.7,473.2 180.6,473.7 181.6,472.5 182.6,472.3 183.6,473.9 184.6,473.2 185.5,472.9 186.5,472.7 187.5,473.3 188.5,473.6 189.4,473.0 190.4,473.0 191.3,472.7 192.2,474.0 193.2,473.0 194.1,473.8 195.0,474.5 196.0,473.6 197.0,474.6 198.0,475.0 199.0,474.7 200.0,475.1 201.0,474.2 202.0,474.8 203.0,474.5 204.0,475.6 205.0,474.9 206.0,475.3 207.0,476.2 208.0,476.1 209.0,476.5 210.0,475.8 211.0,476.0 212.0,476.4 213.0,476.0 214.0,475.7 215.0,475.8 216.0,475.4 217.0,475.8 218.0,476.6 219.0,477.0 220.0,477.1 221.0,477.4 222.0,477.7 222.8,478.2 223.5,479.1 224.2,480.3 225.0,481.1 225.8,481.3 226.5,482.4 227.2,483.1 228.0,483.8 228.6,484.6 229.2,485.5 229.8,486.1 230.4,487.0 231.0,487.9 231.8,488.5 232.5,489.1 233.2,489.7 234.0,490.3 235.0,490.5 236.0,490.7 237.0,490.9 238.0,491.0 239.0,491.2 240.0,491.4 240.9,491.4 241.8,491.4 242.7,491.3 243.6,491.3 244.5,491.3 245.5,491.3 246.4,491.3 247.3,491.3 248.2,491.2 249.1,491.2 250.0,491.2 250.9,491.2 251.8,491.1 252.8,491.1 253.7,491.0 254.6,491.0 255.5,490.9 256.5,490.9 257.4,490.8 258.3,490.8 259.2,490.7 260.2,490.7 261.1,490.6 262.0,490.6 263.0,490.7 264.0,490.7 265.0,490.8 266.0,490.8 267.0,490.9 268.0,490.9 269.0,490.9 270.0,491.0 270.9,491.0 271.8,491.0 272.7,491.0 273.6,491.0 274.5,491.0 275.5,491.0 276.4,491.0 277.3,491.0 278.2,491.0 279.1,491.0 280.0,491.0 280.9,491.0 281.8,491.0 282.7,491.0 283.6,491.0 284.5,491.0 285.5,491.0 286.4,491.0 287.3,491.0 288.2,491.0 289.1,491.0 290.0,491.0 290.9,491.0 291.8,491.0 292.7,491.0 293.6,491.0 294.5,491.0 295.5,491.0 296.4,491.0 297.3,491.0 298.2,491.0 299.1,491.0 300.0,491.0 300.9,491.0 301.8,491.0 302.7,491.0 303.6,491.0 304.5,491.0 305.5,491.0 306.4,491.0 307.3,491.0 308.2,491.0 309.1,491.0 310.0,491.0 310.9,491.0 311.8,491.0 312.7,491.0 313.6,491.0 314.5,491.0 315.5,491.0 316.4,491.0 317.3,491.0 318.2,491.0 319.1,491.0 320.0,491.0" fill="none" stroke="#222" stroke-width="1.4" stroke-linejoin="round"/>
<polyline points="54.0,490.8 54.9,490.8 55.9,490.8 56.8,490.8 57.7,490.8 58.6,490.8 59.6,490.8 60.5,490.8 61.4,490.8 62.4,490.8 63.3,490.8 64.2,490.8 65.1,490.8 66.1,490.8 67.0,490.8 67.9,490.8 68.9,490.8 69.8,490.8 70.7,490.8 71.6,490.8 72.6,490.8 73.5,490.8 74.4,490.8 75.4,490.8 76.3,490.8 77.2,490.8 78.1,490.8 79.1,490.8 80.0,490.8 81.0,490.6 82.0,490.4 83.0,490.2 84.0,490.0 85.0,490.2 86.0,490.4 87.0,490.6 88.2,491.1 89.4,491.5 90.1,490.9 90.7,490.2 91.3,489.6 92.0,489.0 93.0,489.3 94.0,489.7 95.0,490.0 96.0,490.3 97.0,490.7 98.0,491.0 98.8,491.8 99.5,492.5 100.2,493.2 101.0,494.0 101.5,493.0 102.0,492.0 102.5,491.0 103.0,490.0 103.2,489.1 103.5,488.3 103.7,487.4 104.0,486.5 104.2,485.7 104.5,484.8 104.7,483.9 105.0,483.1 105.2,482.2 105.5,481.3 105.7,480.5 106.0,479.6 106.2,478.7 106.5,477.9 106.7,477.0 106.9,476.1 107.0,475.2 107.2,474.3 107.3,473.4 107.5,472.5 107.6,471.6 107.8,470.7 107.9,469.8 108.1,468.9 108.2,468.1 108.4,467.2 108.5,466.3 108.7,465.4 108.8,464.5 109.0,463.6 109.1,462.7 109.3,461.8 109.4,460.9 109.6,460.0 109.7,459.1 109.9,458.1 110.0,457.2 110.2,456.3 110.3,455.3 110.5,454.4 110.6,453.5 110.8,452.6 110.9,451.6 111.0,450.7 111.2,449.8 111.3,448.8 111.5,447.9 111.6,447.0 111.8,446.0 111.9,445.1 112.1,444.2 112.3,443.3 112.6,442.4 112.8,441.5 113.0,440.7 113.2,439.8 113.5,438.9 113.7,438.0 113.9,437.1 114.5,437.8 115.2,438.6 115.8,439.3 116.4,440.0 117.0,440.7 117.6,441.4 118.1,442.2 118.7,442.9 119.0,443.8 119.4,444.7 119.7,445.6 120.1,446.5 120.4,447.4 120.7,448.3 121.0,449.3 121.2,450.2 121.5,451.2 121.8,452.2 122.1,453.1 122.5,454.0 123.0,454.9 123.5,455.7 123.9,456.6 124.5,457.5 125.0,458.3 125.5,459.1 126.1,460.0 126.8,460.9 127.5,462.0 128.3,462.8 129.0,463.4 129.8,463.7 130.7,464.0 131.6,465.3 132.4,465.7 133.1,466.5 133.9,466.7 134.6,467.7 135.3,467.7 136.2,467.8 137.2,467.1 138.1,466.2 139.3,466.6 140.4,467.0 141.6,466.5 142.5,467.1 143.5,467.7 144.4,467.0 145.4,467.9 146.5,467.8 147.5,468.2 148.5,467.0 149.5,466.4 150.6,468.1 151.6,468.1 152.5,467.4 153.4,466.7 154.3,467.1 155.2,468.2 156.1,467.5 157.1,469.1 158.0,468.4 158.9,467.7 159.8,468.8 160.7,468.3 161.6,469.6 162.5,469.6 163.5,468.6 164.4,468.9 165.3,469.1 166.2,469.3 167.1,469.7 168.1,467.5 169.0,468.3 169.9,468.8 170.8,468.0 171.7,468.6 172.6,467.3 173.5,469.0 174.4,468.1 175.4,467.0 176.3,468.1 177.2,467.2 178.1,466.8 179.0,467.4 179.9,466.7 180.8,467.0 181.7,468.6 182.6,468.3 183.6,466.9 184.5,468.7 185.4,467.2 186.3,468.0 187.2,469.4 188.1,468.8 189.1,468.6 190.0,469.1 191.0,469.5 192.0,469.4 192.9,471.5 193.9,470.0 194.8,470.9 195.7,471.8 196.6,471.3 197.5,472.7 198.4,471.4 199.4,473.2 200.3,473.2 201.2,472.9 202.1,473.6 203.0,472.9 203.9,473.9 204.8,473.9 205.8,473.5 206.7,473.6 207.6,474.2 208.5,473.7 209.5,473.2 210.4,474.8 211.3,473.9 212.2,474.5 213.2,475.3 214.1,474.1 215.0,474.0 216.0,474.5 217.0,475.7 218.0,475.6 219.0,475.6 220.0,476.3 220.6,477.7 221.2,477.5 221.8,478.4 222.4,479.8 223.0,480.1 223.6,480.6 224.2,481.7 224.8,482.6 225.4,483.4 226.0,484.3 226.6,485.2 227.2,486.0 227.8,486.9 228.4,487.7 229.0,488.6 229.8,489.2 230.6,489.7 231.4,490.3 232.2,490.8 233.0,491.4 234.0,491.6 235.0,491.7 236.0,491.9 237.0,492.1 238.0,492.3 239.0,492.4 240.0,492.6 241.0,492.6 242.0,492.5 243.0,492.5 244.0,492.5 245.0,492.4 246.0,492.4 247.0,492.3 248.0,492.3 248.9,492.2 249.8,492.0 250.7,491.9 251.6,491.7 252.4,491.6 253.3,491.4 254.2,491.3 255.1,491.1 256.0,491.0 256.9,491.0 257.8,491.0 258.7,491.0 259.6,491.0 260.5,491.0 261.4,491.0 262.3,491.0 263.2,491.0 264.1,491.0 265.0,491.0 265.9,491.0 266.8,491.0 267.7,491.0 268.6,491.0 269.5,491.0 270.4,491.0 271.3,491.0 272.2,491.0 273.1,491.0 274.0,491.0 274.9,491.0 275.8,491.0 276.7,491.0 277.6,491.0 278.5,491.0 279.4,491.0 280.3,491.0 281.2,491.0 282.1,491.0 283.0,491.0 283.9,491.0 284.8,491.0 285.7,491.0 286.6,491.0 287.5,491.0 288.5,491.0 289.4,491.0 290.3,491.0 291.2,491.0 292.1,491.0 293.0,491.0 293.9,491.0 294.8,491.0 295.7,491.0 296.6,491.0 297.5,491.0 298.4,491.0 299.3,491.0 300.2,491.0 301.1,491.0 302.0,491.0 302.9,491.0 303.8,491.0 304.7,491.0 305.6,491.0 306.5,491.0 307.4,491.0 308.3,491.0 309.2,491.0 310.1,491.0 311.0,491.0 311.9,491.0 312.8,491.0 313.7,491.0 314.6,491.0 315.5,491.0 316.4,491.0 317.3,491.0 318.2,491.0 319.1,491.0 320.0,491.0" fill="none" stroke="#ff2a2a" stroke-width="1.4" stroke-linejoin="round"/>
<polyline points="54.0,490.8 54.9,490.8 55.9,490.8 56.8,490.8 57.7,490.8 58.6,490.8 59.6,490.8 60.5,490.8 61.4,490.8 62.4,490.8 63.3,490.8 64.2,490.8 65.1,490.8 66.1,490.8 67.0,490.8 67.9,490.8 68.9,490.8 69.8,490.8 70.7,490.8 71.6,490.8 72.6,490.8 73.5,490.8 74.4,490.8 75.4,490.8 76.3,490.8 77.2,490.8 78.1,490.8 79.1,490.8 80.0,490.8 81.0,490.6 82.0,490.4 83.0,490.2 84.0,490.0 85.0,490.2 86.0,490.4 87.0,490.6 88.2,491.1 89.4,491.5 89.9,490.6 90.4,489.7 91.0,488.8 91.5,487.9 92.0,487.0 93.0,487.0 94.0,487.0 95.0,487.0 96.0,487.0 96.6,487.8 97.2,488.6 97.8,489.4 98.4,490.2 99.0,491.0 100.0,490.5 101.0,490.0 101.1,489.1 101.2,488.1 101.3,487.2 101.4,486.3 101.5,485.3 101.6,484.4 101.7,483.5 101.7,482.5 101.8,481.6 101.9,480.7 102.0,479.7 102.1,478.8 102.2,477.9 102.3,476.9 102.4,476.0 102.5,475.1 102.5,474.1 102.6,473.2 102.6,472.3 102.7,471.4 102.7,470.4 102.8,469.5 102.9,468.6 102.9,467.6 103.0,466.7 103.0,465.8 103.1,464.9 103.1,463.9 103.2,463.0 103.3,462.1 103.3,461.1 103.4,460.2 103.4,459.3 103.5,458.4 103.5,457.4 103.6,456.5 103.7,455.6 103.7,454.6 103.8,453.7 103.8,452.8 103.9,451.9 103.9,450.9 104.0,450.0 104.0,449.1 104.1,448.2 104.1,447.3 104.2,446.4 104.2,445.5 104.3,444.5 104.3,443.6 104.4,442.7 104.4,441.8 104.5,440.9 104.5,440.0 104.5,439.1 104.6,438.2 104.6,437.3 104.7,436.4 104.7,435.5 104.8,434.5 104.8,433.6 104.9,432.7 104.9,431.8 105.0,430.9 105.0,430.0 105.0,429.1 105.1,428.2 105.1,427.3 105.2,426.4 105.2,425.5 105.3,424.5 105.3,423.6 105.4,422.7 105.4,421.8 105.5,420.9 105.5,420.0 105.6,419.1 105.6,418.2 105.7,417.3 105.7,416.4 105.8,415.5 105.8,414.5 105.9,413.6 105.9,412.7 106.0,411.8 106.0,410.9 106.1,410.0 106.1,409.1 106.2,408.2 106.2,407.3 106.3,406.4 106.3,405.5 106.4,404.5 106.4,403.6 106.5,402.7 106.5,401.8 106.6,400.9 106.6,400.0 106.7,399.1 106.8,398.2 107.0,397.3 107.1,396.4 107.2,395.5 107.3,394.6 107.5,393.7 107.6,392.8 107.7,391.9 107.8,391.0 108.0,390.1 108.1,389.2 108.2,388.3 108.3,387.4 108.5,386.5 108.6,385.6 108.7,386.5 108.9,387.5 109.0,388.4 109.1,389.4 109.2,390.3 109.4,391.3 109.5,392.2 109.6,393.2 109.7,394.1 109.9,395.1 110.0,396.0 110.1,396.9 110.2,397.8 110.3,398.7 110.4,399.6 110.5,400.5 110.5,401.5 110.6,402.4 110.7,403.3 110.8,404.2 110.9,405.1 111.0,406.0 111.1,406.9 111.2,407.8 111.3,408.7 111.4,409.6 111.5,410.5 111.5,411.5 111.6,412.4 111.7,413.3 111.8,414.2 111.9,415.1 112.0,416.0 112.1,416.9 112.3,417.9 112.4,418.8 112.5,419.7 112.7,420.7 112.8,421.6 112.9,422.5 113.1,423.5 113.2,424.4 113.3,425.3 113.5,426.3 113.6,427.2 113.7,428.1 113.9,429.1 114.0,430.0 114.1,430.9 114.3,431.8 114.4,432.7 114.6,433.6 114.7,434.5 114.9,435.4 115.0,436.3 115.2,437.2 115.3,438.1 115.5,439.0 115.6,439.9 115.8,440.8 115.9,441.7 116.2,442.6 116.5,443.6 116.8,444.5 117.0,445.5 117.3,446.4 117.6,447.4 117.9,448.3 118.3,449.2 118.6,450.2 119.0,451.1 119.3,452.0 119.8,452.9 120.2,453.8 120.7,454.8 121.1,455.7 121.6,456.6 122.2,457.5 122.7,458.4 123.3,459.3 123.8,460.2 124.4,461.1 125.1,461.8 125.8,462.6 126.6,463.3 127.3,463.8 128.1,464.1 128.8,465.3 129.6,465.1 130.5,465.2 131.5,464.4 132.4,463.3 133.6,463.5 134.7,462.3 135.5,463.6 136.2,463.8 137.0,464.4 138.2,464.7 139.3,465.1 140.4,464.6 141.6,465.2 142.5,465.7 143.5,466.1 144.4,465.2 145.3,464.8 146.2,466.1 147.1,463.5 148.0,465.5 148.9,463.8 149.8,463.3 150.7,463.1 151.6,463.5 152.5,464.8 153.4,462.9 154.3,463.9 155.2,463.9 156.1,463.1 157.1,463.5 158.0,462.0 158.9,461.9 159.8,462.2 160.7,463.4 161.6,462.7 162.5,462.3 163.5,463.2 164.4,462.8 165.3,462.3 166.2,463.8 167.1,463.5 168.1,462.1 169.0,463.1 169.9,463.0 170.8,464.1 171.7,463.9 172.6,462.9 173.5,464.9 174.4,462.8 175.4,463.8 176.3,464.8 177.2,463.4 178.1,464.5 179.0,463.5 179.9,465.3 180.8,465.7 181.7,465.4 182.6,466.3 183.6,465.0 184.5,466.2 185.4,466.1 186.3,466.2 187.2,466.0 188.1,467.1 189.1,467.7 190.0,467.0 191.0,467.8 192.0,466.8 192.9,468.7 193.9,468.9 194.7,470.1 195.6,470.1 196.4,469.3 197.2,469.9 198.0,471.0 198.9,469.9 199.7,471.3 200.5,471.0 201.3,471.3 202.2,471.6 203.0,473.7 203.9,472.2 204.8,472.7 205.7,473.3 206.6,474.7 207.5,472.8 208.5,474.0 209.4,474.4 210.3,475.5 211.2,475.5 212.1,475.8 213.0,474.5 214.0,475.1 215.0,475.4 215.8,477.1 216.7,477.8 217.5,476.8 218.3,477.4 219.2,478.2 220.0,478.9 220.6,480.0 221.2,480.9 221.8,481.1 222.4,481.4 223.0,482.8 223.6,483.5 224.2,484.7 224.8,486.1 225.4,486.3 226.0,487.1 226.8,487.7 227.6,488.3 228.4,488.8 229.2,489.4 230.0,490.0 230.8,490.4 231.7,490.7 232.5,491.1 233.3,491.4 234.2,491.8 235.0,492.1 235.9,492.2 236.8,492.2 237.7,492.3 238.6,492.4 239.5,492.5 240.5,492.5 241.4,492.6 242.3,492.7 243.2,492.8 244.1,492.8 245.0,492.9 245.9,492.8 246.8,492.6 247.7,492.5 248.6,492.3 249.5,492.2 250.4,492.1 251.3,491.9 252.2,491.8 253.1,491.6 254.0,491.5 255.0,491.4 256.0,491.4 257.0,491.3 258.0,491.2 259.0,491.2 260.0,491.1 261.0,491.1 262.0,491.0 262.9,491.0 263.8,491.0 264.7,491.0 265.6,491.0 266.5,491.0 267.4,491.0 268.3,491.0 269.2,491.0 270.2,491.0 271.1,491.0 272.0,491.0 272.9,491.0 273.8,491.0 274.7,491.0 275.6,491.0 276.5,491.0 277.4,491.0 278.3,491.0 279.2,491.0 280.1,491.0 281.0,491.0 281.9,491.0 282.8,491.0 283.8,491.0 284.7,491.0 285.6,491.0 286.5,491.0 287.4,491.0 288.3,491.0 289.2,491.0 290.1,491.0 291.0,491.0 291.9,491.0 292.8,491.0 293.7,491.0 294.6,491.0 295.5,491.0 296.4,491.0 297.3,491.0 298.2,491.0 299.2,491.0 300.1,491.0 301.0,491.0 301.9,491.0 302.8,491.0 303.7,491.0 304.6,491.0 305.5,491.0 306.4,491.0 307.3,491.0 308.2,491.0 309.1,491.0 310.0,491.0 310.9,491.0 311.8,491.0 312.8,491.0 313.7,491.0 314.6,491.0 315.5,491.0 316.4,491.0 317.3,491.0 318.2,491.0 319.1,491.0 320.0,491.0" fill="none" stroke="#2a2aff" stroke-width="1.4" stroke-linejoin="round"/>
<polyline points="54.0,490.8 54.9,490.8 55.9,490.8 56.8,490.8 57.7,490.8 58.6,490.8 59.6,490.8 60.5,490.8 61.4,490.8 62.4,490.8 63.3,490.8 64.2,490.8 65.1,490.8 66.1,490.8 67.0,490.8 67.9,490.8 68.9,490.8 69.8,490.8 70.7,490.8 71.6,490.8 72.6,490.8 73.5,490.8 74.4,490.8 75.4,490.8 76.3,490.8 77.2,490.8 78.1,490.8 79.1,490.8 80.0,490.8 81.0,490.6 82.0,490.4 83.0,490.2 84.0,490.0 85.0,490.2 86.0,490.4 87.0,490.6 88.2,491.1 89.4,491.5 89.8,490.7 90.1,489.8 90.5,489.0 90.9,488.2 91.3,487.4 91.6,486.5 92.0,485.7 92.8,486.5 93.7,487.4 94.3,488.3 94.8,489.1 95.4,490.0 95.7,489.1 96.0,488.3 96.4,487.4 96.7,486.6 97.0,485.7 97.5,486.5 98.0,487.2 98.5,488.0 98.6,487.1 98.7,486.2 98.8,485.2 98.9,484.3 99.0,483.4 99.1,482.5 99.2,481.6 99.3,480.7 99.4,479.8 99.5,478.8 99.6,477.9 99.7,477.0 99.8,476.1 99.8,475.1 99.9,474.2 100.0,473.2 100.1,472.3 100.1,471.3 100.2,470.4 100.3,469.4 100.3,468.5 100.4,467.6 100.5,466.6 100.6,465.7 100.6,464.7 100.7,463.8 100.8,462.8 100.9,461.9 100.9,460.9 101.0,460.0 101.0,459.1 101.1,458.2 101.1,457.3 101.2,456.4 101.2,455.5 101.3,454.5 101.3,453.6 101.4,452.7 101.4,451.8 101.5,450.9 101.5,450.0 101.5,449.1 101.6,448.2 101.6,447.3 101.7,446.4 101.7,445.5 101.8,444.5 101.8,443.6 101.9,442.7 101.9,441.8 102.0,440.9 102.0,440.0 102.0,439.1 102.1,438.2 102.1,437.3 102.1,436.4 102.2,435.5 102.2,434.5 102.2,433.6 102.2,432.7 102.3,431.8 102.3,430.9 102.3,430.0 102.4,429.1 102.4,428.2 102.4,427.3 102.5,426.4 102.5,425.5 102.5,424.5 102.5,423.6 102.6,422.7 102.6,421.8 102.6,420.9 102.7,420.0 102.7,419.1 102.7,418.2 102.8,417.3 102.8,416.4 102.8,415.5 102.8,414.5 102.9,413.6 102.9,412.7 102.9,411.8 103.0,410.9 103.0,410.0 103.0,409.1 103.0,408.2 103.1,407.3 103.1,406.4 103.1,405.5 103.1,404.5 103.2,403.6 103.2,402.7 103.2,401.8 103.2,400.9 103.2,400.0 103.3,399.1 103.3,398.2 103.3,397.3 103.3,396.4 103.4,395.5 103.4,394.5 103.4,393.6 103.4,392.7 103.5,391.8 103.5,390.9 103.5,390.0 103.5,389.1 103.5,388.2 103.6,387.3 103.6,386.4 103.6,385.5 103.6,384.5 103.7,383.6 103.7,382.7 103.7,381.8 103.7,380.9 103.8,380.0 103.8,379.1 103.8,378.2 103.8,377.3 103.8,376.4 103.9,375.5 103.9,374.5 103.9,373.6 103.9,372.7 104.0,371.8 104.0,370.9 104.0,370.0 104.0,369.1 104.1,368.2 104.1,367.2 104.2,366.3 104.2,365.4 104.2,364.5 104.3,363.5 104.3,362.6 104.3,361.7 104.4,360.8 104.4,359.8 104.5,358.9 104.5,358.0 104.5,357.1 104.6,356.2 104.6,355.2 104.7,354.3 104.7,353.4 104.7,352.5 104.8,351.5 104.8,350.6 104.8,349.7 104.9,348.8 104.9,347.8 105.0,346.9 105.0,346.0 105.1,345.1 105.3,344.2 105.4,343.3 105.6,342.4 105.7,341.5 105.8,340.6 106.0,339.7 106.1,338.8 106.3,337.9 106.4,337.0 106.5,337.9 106.6,338.9 106.7,339.8 106.7,340.7 106.8,341.6 106.9,342.6 107.0,343.5 107.1,344.4 107.2,345.4 107.3,346.3 107.3,347.2 107.4,348.1 107.5,349.1 107.6,350.0 107.7,350.9 107.7,351.8 107.8,352.7 107.9,353.6 107.9,354.5 108.0,355.5 108.0,356.4 108.1,357.3 108.2,358.2 108.2,359.1 108.3,360.0 108.4,360.9 108.4,361.8 108.5,362.7 108.6,363.6 108.6,364.5 108.7,365.5 108.7,366.4 108.8,367.3 108.9,368.2 108.9,369.1 109.0,370.0 109.1,370.9 109.1,371.8 109.2,372.7 109.3,373.6 109.3,374.5 109.4,375.4 109.5,376.3 109.6,377.2 109.6,378.1 109.7,379.0 109.8,379.9 109.8,380.8 109.9,381.7 110.0,382.6 110.1,383.5 110.1,384.4 110.2,385.3 110.3,386.2 110.3,387.1 110.4,388.0 110.5,388.9 110.6,389.9 110.7,390.8 110.8,391.7 110.9,392.7 111.0,393.6 111.1,394.5 111.3,395.5 111.4,396.4 111.5,397.3 111.6,398.3 111.7,399.2 111.8,400.1 111.9,401.1 112.0,402.0 112.1,402.9 112.2,403.8 112.2,404.8 112.3,405.7 112.4,406.6 112.5,407.5 112.6,408.4 112.7,409.3 112.8,410.2 112.8,411.2 112.9,412.1 113.0,413.0 113.1,413.9 113.2,414.8 113.2,415.8 113.3,416.7 113.4,417.6 113.5,418.5 113.6,419.4 113.7,420.3 113.8,421.2 113.8,422.2 113.9,423.1 114.0,424.0 114.1,425.0 114.2,425.9 114.3,426.9 114.3,427.8 114.4,428.8 114.5,429.7 114.6,430.7 114.7,431.6 114.8,432.6 114.9,433.5 115.0,434.5 115.0,435.4 115.1,436.4 115.2,437.3 115.3,438.3 115.7,439.2 116.1,440.2 116.4,441.1 116.8,442.1 117.2,443.1 117.6,444.0 118.1,444.9 118.5,445.8 119.0,446.8 119.4,447.7 119.9,448.6 120.3,449.5 120.8,450.4 121.2,451.3 121.7,452.2 122.1,453.1 122.6,453.9 123.1,454.6 123.5,455.4 124.0,456.2 124.5,456.9 125.0,457.7 125.7,458.3 126.5,458.9 127.2,458.7 127.9,461.6 129.0,459.0 130.1,460.9 130.4,459.1 130.8,458.4 131.1,458.6 131.4,456.6 131.7,456.3 132.1,455.1 132.4,454.2 132.8,455.3 133.2,455.8 133.7,457.8 134.1,457.5 134.7,458.7 135.3,459.2 135.9,460.8 136.2,460.1 136.6,459.9 136.9,458.2 137.3,456.9 137.6,456.3 137.9,458.2 138.2,458.0 138.4,459.6 138.7,460.2 139.0,461.5 139.3,461.8 140.4,462.3 141.6,461.1 142.5,461.5 143.5,462.2 144.4,460.8 145.3,459.1 146.1,457.9 147.0,461.4 147.9,459.7 148.9,458.8 149.8,462.5 150.8,461.3 151.8,462.3 152.7,463.6 153.6,460.5 154.6,460.6 155.6,463.0 156.5,459.2 157.4,462.1 158.4,458.8 159.3,461.8 160.3,462.3 161.2,463.7 162.2,463.6 163.2,462.5 164.1,461.4 165.1,461.3 166.0,463.4 167.0,463.5 168.0,461.5 168.9,465.8 169.9,464.0 170.9,465.2 171.8,462.9 172.8,463.1 173.8,462.1 174.8,463.9 175.7,463.7 176.7,464.7 177.6,464.7 178.4,467.1 179.3,467.7 180.1,464.7 181.0,466.0 181.9,465.3 182.7,467.8 183.6,469.6 184.6,466.4 185.5,469.3 186.5,467.5 187.5,466.5 188.5,470.3 189.4,468.6 190.4,468.5 191.2,470.0 191.9,469.8 192.7,471.0 193.5,471.7 194.2,472.1 195.0,473.4 195.9,472.1 196.8,471.3 197.7,471.4 198.6,471.7 199.4,473.9 200.3,473.3 201.2,475.7 202.1,474.4 203.0,475.5 203.9,477.0 204.8,472.9 205.6,473.0 206.5,473.8 207.4,475.2 208.2,476.3 209.1,477.4 210.0,475.7 211.0,479.1 212.0,473.7 213.0,478.3 214.0,474.8 215.0,477.2 216.0,476.0 216.5,477.7 217.0,478.3 217.5,479.4 218.0,479.8 218.5,480.3 219.0,481.8 219.5,482.2 220.0,482.7 220.5,484.0 221.0,484.7 221.5,485.5 222.0,486.0 222.6,486.7 223.2,487.9 223.8,488.5 224.4,488.9 225.0,489.9 225.8,490.7 226.7,491.0 227.5,491.0 228.3,491.2 229.2,491.5 230.0,491.6 231.0,491.9 232.0,492.6 233.0,492.3 234.0,493.7 235.0,494.0 236.0,493.9 237.0,493.0 238.0,493.8 239.0,494.0 240.0,493.5 241.0,495.2 242.0,494.8 243.0,494.3 244.0,494.7 245.0,493.8 246.0,493.7 247.0,494.1 248.0,494.3 249.0,494.0 250.0,492.8 251.0,493.5 252.0,493.8 253.0,493.2 254.0,493.3 255.0,493.1 256.0,491.5 257.0,491.5 258.0,491.8 259.0,492.4 260.0,491.3 261.0,491.2 262.0,491.0 263.0,491.0 264.0,491.0 265.0,491.0 266.0,491.0 267.0,491.0 268.0,491.0 269.0,491.0 270.0,491.0 270.9,491.0 271.8,491.0 272.7,491.0 273.6,491.0 274.5,491.0 275.5,491.0 276.4,491.0 277.3,491.0 278.2,491.0 279.1,491.0 280.0,491.0 280.9,491.0 281.8,491.0 282.7,491.0 283.6,491.0 284.5,491.0 285.5,491.0 286.4,491.0 287.3,491.0 288.2,491.0 289.1,491.0 290.0,491.0 290.9,491.0 291.8,491.0 292.7,491.0 293.6,491.0 294.5,491.0 295.5,491.0 296.4,491.0 297.3,491.0 298.2,491.0 299.1,491.0 300.0,491.0 300.9,491.0 301.8,491.0 302.7,491.0 303.6,491.0 304.5,491.0 305.5,491.0 306.4,491.0 307.3,491.0 308.2,491.0 309.1,491.0 310.0,491.0 310.9,491.0 311.8,491.0 312.7,491.0 313.6,491.0 314.5,491.0 315.5,491.0 316.4,491.0 317.3,491.0 318.2,491.0 319.1,491.0 320.0,491.0" fill="none" stroke="#2aee2a" stroke-width="1.4" stroke-linejoin="round"/>
<rect x="259.5" y="293.5" width="54" height="57" fill="#fff" stroke="#999" stroke-width="1"/>
<line x1="261" y1="300.9" x2="286" y2="300.9" stroke="#222" stroke-width="1.6" opacity="0.85"/>
<text x="289.2" y="304.79999999999995" font-family="Liberation Serif" font-weight="bold" font-size="11.5" textLength="21.9" lengthAdjust="spacingAndGlyphs" fill="#000">3 kV</text>
<line x1="261" y1="314.8" x2="286" y2="314.8" stroke="#ff2a2a" stroke-width="1.6" opacity="0.85"/>
<text x="289.2" y="318.7" font-family="Liberation Serif" font-weight="bold" font-size="11.5" textLength="21.9" lengthAdjust="spacingAndGlyphs" fill="#000">4 kV</text>
<line x1="261" y1="328.9" x2="286" y2="328.9" stroke="#2a2aff" stroke-width="1.6" opacity="0.85"/>
<text x="289.2" y="332.79999999999995" font-family="Liberation Serif" font-weight="bold" font-size="11.5" textLength="21.9" lengthAdjust="spacingAndGlyphs" fill="#000">5 kV</text>
<line x1="261" y1="342.8" x2="286" y2="342.8" stroke="#2aee2a" stroke-width="1.6" opacity="0.85"/>
<text x="289.2" y="346.7" font-family="Liberation Serif" font-weight="bold" font-size="11.5" textLength="21.9" lengthAdjust="spacingAndGlyphs" fill="#000">6 kV</text>
<g stroke="#333" stroke-width="1" fill="none">
<rect x="189.5" y="365.5" width="118.5" height="85.5" fill="#fff"/>
<line x1="247.8" y1="365.5" x2="247.8" y2="451"/>
<line x1="189.5" y1="382.6" x2="308" y2="382.6"/>
<line x1="189.5" y1="399.7" x2="308" y2="399.7"/>
<line x1="189.5" y1="416.9" x2="308" y2="416.9"/>
<line x1="189.5" y1="434" x2="308" y2="434"/>
</g>
<text x="218.6" y="378.2" text-anchor="middle" font-family="Liberation Serif" font-weight="bold" font-size="10" fill="#000"><tspan font-style="italic">V</tspan>(kV)</text>
<text x="277.9" y="378.2" text-anchor="middle" font-family="Liberation Serif" font-weight="bold" font-size="10" fill="#000"><tspan font-style="italic">E</tspan>(μJ)</text>
<text x="218.6" y="394.8" text-anchor="middle" font-family="Liberation Serif" font-weight="bold" font-size="10" fill="#000">3</text>
<text x="277.9" y="394.8" text-anchor="middle" font-family="Liberation Serif" font-weight="bold" font-size="10" fill="#000">215</text>
<text x="218.6" y="411.9" text-anchor="middle" font-family="Liberation Serif" font-weight="bold" font-size="10" fill="#000">4</text>
<text x="277.9" y="411.9" text-anchor="middle" font-family="Liberation Serif" font-weight="bold" font-size="10" fill="#000">370</text>
<text x="218.6" y="429.0" text-anchor="middle" font-family="Liberation Serif" font-weight="bold" font-size="10" fill="#000">5</text>
<text x="277.9" y="429.0" text-anchor="middle" font-family="Liberation Serif" font-weight="bold" font-size="10" fill="#000">456</text>
<text x="218.6" y="446.1" text-anchor="middle" font-family="Liberation Serif" font-weight="bold" font-size="10" fill="#000">6</text>
<text x="277.9" y="446.1" text-anchor="middle" font-family="Liberation Serif" font-weight="bold" font-size="10" fill="#000">516</text>
<rect x="53" y="287.3" width="266.7" height="214.5" fill="none" stroke="#7b7b7b" stroke-width="2"/>
<line x1="48.4" y1="490.5" x2="52" y2="490.5" stroke="#333" stroke-width="1"/>
<text x="46.1" y="494.0" text-anchor="end" font-family="Liberation Serif" font-weight="bold" font-size="12.5" fill="#000">0</text>
<line x1="48.4" y1="434.5" x2="52" y2="434.5" stroke="#333" stroke-width="1"/>
<text x="46.1" y="437.6" text-anchor="end" font-family="Liberation Serif" font-weight="bold" font-size="12.5" fill="#000">5</text>
<line x1="48.4" y1="377.5" x2="52" y2="377.5" stroke="#333" stroke-width="1"/>
<text x="46.1" y="381.1" text-anchor="end" font-family="Liberation Serif" font-weight="bold" font-size="12.5" fill="#000">10</text>
<line x1="48.4" y1="321.5" x2="52" y2="321.5" stroke="#333" stroke-width="1"/>
<text x="46.1" y="324.7" text-anchor="end" font-family="Liberation Serif" font-weight="bold" font-size="12.5" fill="#000">15</text>
<line x1="50.2" y1="462.5" x2="52" y2="462.5" stroke="#333" stroke-width="1"/>
<line x1="50.2" y1="406.5" x2="52" y2="406.5" stroke="#333" stroke-width="1"/>
<line x1="50.2" y1="349.5" x2="52" y2="349.5" stroke="#333" stroke-width="1"/>
<line x1="50.2" y1="293.5" x2="52" y2="293.5" stroke="#333" stroke-width="1"/>
<line x1="80.5" y1="503" x2="80.5" y2="507" stroke="#333" stroke-width="1"/>
<text x="80.9" y="518.8" text-anchor="middle" font-family="Liberation Serif" font-weight="bold" font-size="12.5" fill="#000">0</text>
<line x1="148.5" y1="503" x2="148.5" y2="507" stroke="#333" stroke-width="1"/>
<text x="149.2" y="518.8" text-anchor="middle" font-family="Liberation Serif" font-weight="bold" font-size="12.5" fill="#000">100</text>
<line x1="217.5" y1="503" x2="217.5" y2="507" stroke="#333" stroke-width="1"/>
<text x="217.5" y="518.8" text-anchor="middle" font-family="Liberation Serif" font-weight="bold" font-size="12.5" fill="#000">200</text>
<line x1="285.5" y1="503" x2="285.5" y2="507" stroke="#333" stroke-width="1"/>
<text x="285.8" y="518.8" text-anchor="middle" font-family="Liberation Serif" font-weight="bold" font-size="12.5" fill="#000">300</text>
<line x1="114.5" y1="503" x2="114.5" y2="505" stroke="#333" stroke-width="1"/>
<line x1="182.5" y1="503" x2="182.5" y2="505" stroke="#333" stroke-width="1"/>
<line x1="251.5" y1="503" x2="251.5" y2="505" stroke="#333" stroke-width="1"/>
<text x="164.4" y="537.7" font-family="Liberation Serif" font-weight="bold" font-size="11.6" textLength="44.4" lengthAdjust="spacingAndGlyphs" fill="#000">Time (ns)</text>
<text transform="translate(20.4,387.1) rotate(-90)" text-anchor="middle" font-family="Liberation Serif" font-weight="bold" font-size="14" fill="#000">Power (kW)</text>
<text x="0.8" y="288.2" font-family="Liberation Serif" font-weight="bold" font-size="18" fill="#000">(b)</text>
</svg>
</body></html>
